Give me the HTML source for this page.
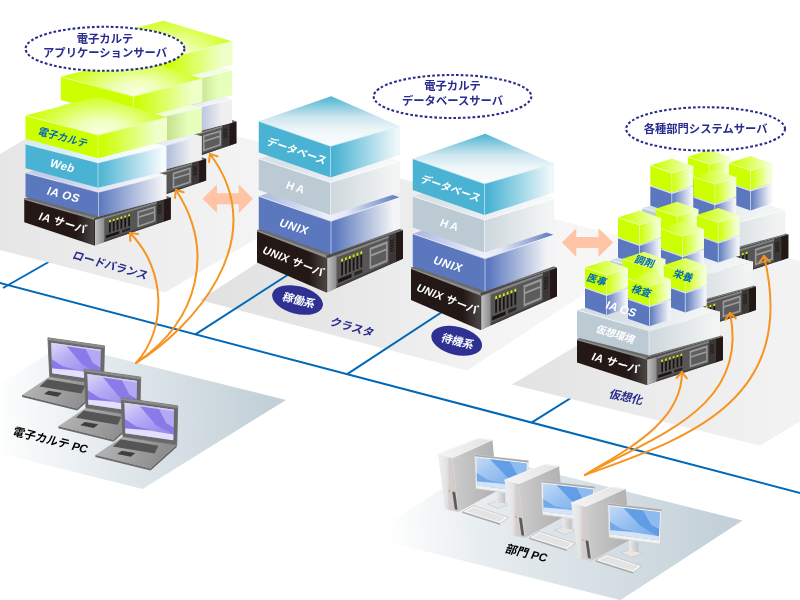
<!DOCTYPE html>
<html lang="ja"><head><meta charset="utf-8"><title>電子カルテ システム構成</title>
<style>
html,body{margin:0;padding:0;background:#fff;overflow:hidden}
svg{display:block;will-change:transform;filter:opacity(0.9999)}
text{font-family:'Liberation Sans','Noto Sans CJK JP',sans-serif;}
</style></head><body>
<svg width="800" height="600" viewBox="0 0 800 600">
<defs><linearGradient id="g1" gradientUnits="userSpaceOnUse" x1="0.0" y1="0.0" x2="260.0" y2="0.0"><stop offset="0" stop-color="#e6e6e6"/><stop offset="0.45" stop-color="#ececec"/><stop offset="1" stop-color="#f4f4f4"/></linearGradient>
<linearGradient id="g2" gradientUnits="userSpaceOnUse" x1="200.0" y1="0.0" x2="650.0" y2="0.0"><stop offset="0" stop-color="#e1e1e1"/><stop offset="0.3" stop-color="#e7e7e7"/><stop offset="0.5" stop-color="#eeeeee"/><stop offset="0.65" stop-color="#f4f4f4"/><stop offset="1" stop-color="#f8f8f8"/></linearGradient>
<linearGradient id="g3" gradientUnits="userSpaceOnUse" x1="512.0" y1="0.0" x2="800.0" y2="0.0"><stop offset="0" stop-color="#e2e2e2"/><stop offset="0.5" stop-color="#ececec"/><stop offset="1" stop-color="#f3f3f3"/></linearGradient>
<linearGradient id="g4" gradientUnits="userSpaceOnUse" x1="0.0" y1="420.0" x2="270.0" y2="410.0"><stop offset="0" stop-color="#fdfefe"/><stop offset="0.35" stop-color="#e6ecef"/><stop offset="1" stop-color="#c3d0d8"/></linearGradient>
<linearGradient id="g5" gradientUnits="userSpaceOnUse" x1="385.0" y1="540.0" x2="730.0" y2="530.0"><stop offset="0" stop-color="#ffffff"/><stop offset="0.3" stop-color="#e6ecef"/><stop offset="1" stop-color="#c3d0d8"/></linearGradient>
<linearGradient id="g6" gradientUnits="userSpaceOnUse" x1="89.8" y1="0.0" x2="159.6" y2="0.0"><stop offset="0" stop-color="#231815"/><stop offset="0.75" stop-color="#231815"/><stop offset="1" stop-color="#4a4644"/></linearGradient>
<linearGradient id="g7" gradientUnits="userSpaceOnUse" x1="159.6" y1="0.0" x2="170.0" y2="0.0"><stop offset="0" stop-color="#c9c9c9"/><stop offset="0.5" stop-color="#a9a9a9"/><stop offset="1" stop-color="#8b8b8b"/></linearGradient>
<linearGradient id="g8" gradientUnits="userSpaceOnUse" x1="131.9" y1="79.5" x2="204.9" y2="112.8"><stop offset="0.0" stop-color="#b9c4e4"/><stop offset="1.0" stop-color="#eef1fa"/></linearGradient>
<linearGradient id="g9" gradientUnits="userSpaceOnUse" x1="164.1" y1="0.0" x2="232.1" y2="0.0"><stop offset="0.0" stop-color="#5b78be"/><stop offset="0.85" stop-color="#f0f0f0"/></linearGradient>
<linearGradient id="g10" gradientUnits="userSpaceOnUse" x1="132.2" y1="51.5" x2="204.7" y2="83.5"><stop offset="0.0" stop-color="#d9f7a0"/><stop offset="1.0" stop-color="#f2fce0"/></linearGradient>
<linearGradient id="g11" gradientUnits="userSpaceOnUse" x1="163.6" y1="0.0" x2="232.1" y2="0.0"><stop offset="0.25" stop-color="#a9c86a"/><stop offset="0.8" stop-color="#e6ffba"/></linearGradient>
<radialGradient id="g12" gradientUnits="userSpaceOnUse" cx="167.6" cy="55.0" r="78.0" gradientTransform="translate(0 26.79) scale(1 0.513)"><stop offset="0" stop-color="#f8ffe2"/><stop offset="0.3" stop-color="#efffb8"/><stop offset="0.65" stop-color="#dcff58"/><stop offset="1" stop-color="#ccff00"/></radialGradient>
<linearGradient id="g13" gradientUnits="userSpaceOnUse" x1="163.6" y1="0.0" x2="232.6" y2="0.0"><stop offset="0.05" stop-color="#ccff00"/><stop offset="0.85" stop-color="#eeffca"/></linearGradient>
<linearGradient id="g14" gradientUnits="userSpaceOnUse" x1="59.5" y1="0.0" x2="129.3" y2="0.0"><stop offset="0" stop-color="#231815"/><stop offset="0.75" stop-color="#231815"/><stop offset="1" stop-color="#4a4644"/></linearGradient>
<linearGradient id="g15" gradientUnits="userSpaceOnUse" x1="129.3" y1="0.0" x2="139.7" y2="0.0"><stop offset="0" stop-color="#c9c9c9"/><stop offset="0.5" stop-color="#a9a9a9"/><stop offset="1" stop-color="#8b8b8b"/></linearGradient>
<linearGradient id="g16" gradientUnits="userSpaceOnUse" x1="101.6" y1="116.8" x2="174.6" y2="150.1"><stop offset="0.0" stop-color="#b9c4e4"/><stop offset="1.0" stop-color="#eef1fa"/></linearGradient>
<linearGradient id="g17" gradientUnits="userSpaceOnUse" x1="133.8" y1="0.0" x2="201.8" y2="0.0"><stop offset="0.0" stop-color="#5b78be"/><stop offset="0.85" stop-color="#f0f0f0"/></linearGradient>
<linearGradient id="g18" gradientUnits="userSpaceOnUse" x1="101.9" y1="88.8" x2="174.4" y2="120.8"><stop offset="0.0" stop-color="#d9f7a0"/><stop offset="1.0" stop-color="#f2fce0"/></linearGradient>
<linearGradient id="g19" gradientUnits="userSpaceOnUse" x1="133.3" y1="0.0" x2="201.8" y2="0.0"><stop offset="0.25" stop-color="#a9c86a"/><stop offset="0.8" stop-color="#e6ffba"/></linearGradient>
<radialGradient id="g20" gradientUnits="userSpaceOnUse" cx="137.3" cy="92.3" r="78.0" gradientTransform="translate(0 44.97) scale(1 0.513)"><stop offset="0" stop-color="#f8ffe2"/><stop offset="0.3" stop-color="#efffb8"/><stop offset="0.65" stop-color="#dcff58"/><stop offset="1" stop-color="#ccff00"/></radialGradient>
<linearGradient id="g21" gradientUnits="userSpaceOnUse" x1="133.3" y1="0.0" x2="202.3" y2="0.0"><stop offset="0.05" stop-color="#ccff00"/><stop offset="0.85" stop-color="#eeffca"/></linearGradient>
<linearGradient id="g22" gradientUnits="userSpaceOnUse" x1="24.2" y1="0.0" x2="94.0" y2="0.0"><stop offset="0" stop-color="#231815"/><stop offset="0.75" stop-color="#231815"/><stop offset="1" stop-color="#4a4644"/></linearGradient>
<linearGradient id="g23" gradientUnits="userSpaceOnUse" x1="94.0" y1="0.0" x2="104.4" y2="0.0"><stop offset="0" stop-color="#c9c9c9"/><stop offset="0.5" stop-color="#a9a9a9"/><stop offset="1" stop-color="#8b8b8b"/></linearGradient>
<linearGradient id="g24" gradientUnits="userSpaceOnUse" x1="66.3" y1="155.5" x2="139.3" y2="188.8"><stop offset="0.0" stop-color="#c3cdea"/><stop offset="1.0" stop-color="#f6f7fc"/></linearGradient>
<linearGradient id="g25" gradientUnits="userSpaceOnUse" x1="98.5" y1="0.0" x2="166.5" y2="0.0"><stop offset="0.0" stop-color="#5b78be"/><stop offset="0.95" stop-color="#f4f4f6"/></linearGradient>
<linearGradient id="g26" gradientUnits="userSpaceOnUse" x1="66.6" y1="127.5" x2="139.1" y2="159.4"><stop offset="0.0" stop-color="#d6edf4"/><stop offset="1.0" stop-color="#fafdfe"/></linearGradient>
<linearGradient id="g27" gradientUnits="userSpaceOnUse" x1="98.0" y1="0.0" x2="166.5" y2="0.0"><stop offset="0.0" stop-color="#4ab3d3"/><stop offset="0.95" stop-color="#f6fbfc"/></linearGradient>
<radialGradient id="g28" gradientUnits="userSpaceOnUse" cx="102.0" cy="131.0" r="78.0" gradientTransform="translate(0 63.82) scale(1 0.513)"><stop offset="0" stop-color="#f8ffe2"/><stop offset="0.3" stop-color="#efffb8"/><stop offset="0.65" stop-color="#dcff58"/><stop offset="1" stop-color="#ccff00"/></radialGradient>
<linearGradient id="g29" gradientUnits="userSpaceOnUse" x1="98.0" y1="0.0" x2="167.0" y2="0.0"><stop offset="0.05" stop-color="#ccff00"/><stop offset="0.85" stop-color="#eeffca"/></linearGradient>
<linearGradient id="g30" gradientUnits="userSpaceOnUse" x1="257.0" y1="0.0" x2="326.2" y2="0.0"><stop offset="0" stop-color="#231815"/><stop offset="0.75" stop-color="#231815"/><stop offset="1" stop-color="#4a4644"/></linearGradient>
<linearGradient id="g31" gradientUnits="userSpaceOnUse" x1="326.2" y1="0.0" x2="336.6" y2="0.0"><stop offset="0" stop-color="#c9c9c9"/><stop offset="0.5" stop-color="#a9a9a9"/><stop offset="1" stop-color="#8b8b8b"/></linearGradient>
<linearGradient id="g32" gradientUnits="userSpaceOnUse" x1="258.8" y1="0.0" x2="400.0" y2="0.0"><stop offset="0" stop-color="#aab7de"/><stop offset="0.5" stop-color="#eef1fa"/><stop offset="0.62" stop-color="#e3e8f6"/><stop offset="1" stop-color="#5b78be"/></linearGradient>
<linearGradient id="g33" gradientUnits="userSpaceOnUse" x1="331.0" y1="0.0" x2="400.0" y2="0.0"><stop offset="0.05" stop-color="#5b78be"/><stop offset="0.9" stop-color="#f4f4f6"/></linearGradient>
<linearGradient id="g34" gradientUnits="userSpaceOnUse" x1="300.4" y1="137.5" x2="372.2" y2="178.2"><stop offset="0.0" stop-color="#d9e2e8"/><stop offset="1.0" stop-color="#f6f8f9"/></linearGradient>
<linearGradient id="g35" gradientUnits="userSpaceOnUse" x1="330.5" y1="0.0" x2="400.0" y2="0.0"><stop offset="0.0" stop-color="#cdd7dd"/><stop offset="0.9" stop-color="#f3f4f4"/></linearGradient>
<linearGradient id="g36" gradientUnits="userSpaceOnUse" x1="0.0" y1="96.2" x2="0.0" y2="146.2"><stop offset="0" stop-color="#4ab3d3"/><stop offset="0.18" stop-color="#84c9de"/><stop offset="0.42" stop-color="#cde6ef"/><stop offset="0.68" stop-color="#eef6f9"/><stop offset="1" stop-color="#fbfcfd"/></linearGradient>
<linearGradient id="g37" gradientUnits="userSpaceOnUse" x1="330.5" y1="0.0" x2="400.0" y2="0.0"><stop offset="0.05" stop-color="#4ab3d3"/><stop offset="0.95" stop-color="#eef7fa"/></linearGradient>
<linearGradient id="g38" gradientUnits="userSpaceOnUse" x1="411.0" y1="0.0" x2="480.2" y2="0.0"><stop offset="0" stop-color="#231815"/><stop offset="0.75" stop-color="#231815"/><stop offset="1" stop-color="#4a4644"/></linearGradient>
<linearGradient id="g39" gradientUnits="userSpaceOnUse" x1="480.2" y1="0.0" x2="490.6" y2="0.0"><stop offset="0" stop-color="#c9c9c9"/><stop offset="0.5" stop-color="#a9a9a9"/><stop offset="1" stop-color="#8b8b8b"/></linearGradient>
<linearGradient id="g40" gradientUnits="userSpaceOnUse" x1="412.8" y1="0.0" x2="554.0" y2="0.0"><stop offset="0" stop-color="#aab7de"/><stop offset="0.5" stop-color="#eef1fa"/><stop offset="0.62" stop-color="#e3e8f6"/><stop offset="1" stop-color="#5b78be"/></linearGradient>
<linearGradient id="g41" gradientUnits="userSpaceOnUse" x1="485.0" y1="0.0" x2="554.0" y2="0.0"><stop offset="0.05" stop-color="#5b78be"/><stop offset="0.9" stop-color="#f4f4f6"/></linearGradient>
<linearGradient id="g42" gradientUnits="userSpaceOnUse" x1="454.4" y1="175.0" x2="526.2" y2="215.8"><stop offset="0.0" stop-color="#d9e2e8"/><stop offset="1.0" stop-color="#f6f8f9"/></linearGradient>
<linearGradient id="g43" gradientUnits="userSpaceOnUse" x1="484.5" y1="0.0" x2="554.0" y2="0.0"><stop offset="0.0" stop-color="#cdd7dd"/><stop offset="0.9" stop-color="#f3f4f4"/></linearGradient>
<linearGradient id="g44" gradientUnits="userSpaceOnUse" x1="0.0" y1="133.8" x2="0.0" y2="183.8"><stop offset="0" stop-color="#4ab3d3"/><stop offset="0.18" stop-color="#84c9de"/><stop offset="0.42" stop-color="#cde6ef"/><stop offset="0.68" stop-color="#eef6f9"/><stop offset="1" stop-color="#fbfcfd"/></linearGradient>
<linearGradient id="g45" gradientUnits="userSpaceOnUse" x1="484.5" y1="0.0" x2="554.0" y2="0.0"><stop offset="0.05" stop-color="#4ab3d3"/><stop offset="0.95" stop-color="#eef7fa"/></linearGradient>
<linearGradient id="g46" gradientUnits="userSpaceOnUse" x1="642.3" y1="0.0" x2="711.5" y2="0.0"><stop offset="0" stop-color="#231815"/><stop offset="0.75" stop-color="#231815"/><stop offset="1" stop-color="#4a4644"/></linearGradient>
<linearGradient id="g47" gradientUnits="userSpaceOnUse" x1="711.5" y1="0.0" x2="721.9" y2="0.0"><stop offset="0" stop-color="#c9c9c9"/><stop offset="0.5" stop-color="#a9a9a9"/><stop offset="1" stop-color="#8b8b8b"/></linearGradient>
<linearGradient id="g48" gradientUnits="userSpaceOnUse" x1="684.9" y1="188.8" x2="756.9" y2="225.2"><stop offset="0.0" stop-color="#d3dde3"/><stop offset="1.0" stop-color="#f2f5f6"/></linearGradient>
<linearGradient id="g49" gradientUnits="userSpaceOnUse" x1="714.3" y1="0.0" x2="785.3" y2="0.0"><stop offset="0.0" stop-color="#cdd7dd"/><stop offset="0.9" stop-color="#f2f3f3"/></linearGradient>
<linearGradient id="g50" gradientUnits="userSpaceOnUse" x1="709.3" y1="0.0" x2="730.8" y2="0.0"><stop offset="0.0" stop-color="#5b78be"/><stop offset="0.9" stop-color="#f2f3f8"/></linearGradient>
<linearGradient id="g51" gradientUnits="userSpaceOnUse" x1="687.8" y1="0.0" x2="730.8" y2="0.0"><stop offset="0.1" stop-color="#ccff00"/><stop offset="0.95" stop-color="#f2ffcc"/></linearGradient>
<linearGradient id="g52" gradientUnits="userSpaceOnUse" x1="709.3" y1="0.0" x2="730.8" y2="0.0"><stop offset="0.0" stop-color="#ccff00"/><stop offset="0.85" stop-color="#f2ffd2"/></linearGradient>
<linearGradient id="g53" gradientUnits="userSpaceOnUse" x1="671.8" y1="0.0" x2="693.3" y2="0.0"><stop offset="0.0" stop-color="#5b78be"/><stop offset="0.9" stop-color="#f2f3f8"/></linearGradient>
<linearGradient id="g54" gradientUnits="userSpaceOnUse" x1="650.3" y1="0.0" x2="693.3" y2="0.0"><stop offset="0.1" stop-color="#ccff00"/><stop offset="0.95" stop-color="#f2ffcc"/></linearGradient>
<linearGradient id="g55" gradientUnits="userSpaceOnUse" x1="671.8" y1="0.0" x2="693.3" y2="0.0"><stop offset="0.0" stop-color="#ccff00"/><stop offset="0.85" stop-color="#f2ffd2"/></linearGradient>
<linearGradient id="g56" gradientUnits="userSpaceOnUse" x1="750.5" y1="0.0" x2="772.0" y2="0.0"><stop offset="0.0" stop-color="#5b78be"/><stop offset="0.9" stop-color="#f2f3f8"/></linearGradient>
<linearGradient id="g57" gradientUnits="userSpaceOnUse" x1="729.0" y1="0.0" x2="772.0" y2="0.0"><stop offset="0.1" stop-color="#ccff00"/><stop offset="0.95" stop-color="#f2ffcc"/></linearGradient>
<linearGradient id="g58" gradientUnits="userSpaceOnUse" x1="750.5" y1="0.0" x2="772.0" y2="0.0"><stop offset="0.0" stop-color="#ccff00"/><stop offset="0.85" stop-color="#f2ffd2"/></linearGradient>
<linearGradient id="g59" gradientUnits="userSpaceOnUse" x1="714.8" y1="0.0" x2="736.3" y2="0.0"><stop offset="0.0" stop-color="#5b78be"/><stop offset="0.9" stop-color="#f2f3f8"/></linearGradient>
<linearGradient id="g60" gradientUnits="userSpaceOnUse" x1="693.3" y1="0.0" x2="736.3" y2="0.0"><stop offset="0.1" stop-color="#ccff00"/><stop offset="0.95" stop-color="#f2ffcc"/></linearGradient>
<linearGradient id="g61" gradientUnits="userSpaceOnUse" x1="714.8" y1="0.0" x2="736.3" y2="0.0"><stop offset="0.0" stop-color="#ccff00"/><stop offset="0.85" stop-color="#f2ffd2"/></linearGradient>
<linearGradient id="g62" gradientUnits="userSpaceOnUse" x1="610.0" y1="0.0" x2="679.2" y2="0.0"><stop offset="0" stop-color="#231815"/><stop offset="0.75" stop-color="#231815"/><stop offset="1" stop-color="#4a4644"/></linearGradient>
<linearGradient id="g63" gradientUnits="userSpaceOnUse" x1="679.2" y1="0.0" x2="689.6" y2="0.0"><stop offset="0" stop-color="#c9c9c9"/><stop offset="0.5" stop-color="#a9a9a9"/><stop offset="1" stop-color="#8b8b8b"/></linearGradient>
<linearGradient id="g64" gradientUnits="userSpaceOnUse" x1="652.6" y1="240.8" x2="724.6" y2="277.2"><stop offset="0.0" stop-color="#d3dde3"/><stop offset="1.0" stop-color="#f2f5f6"/></linearGradient>
<linearGradient id="g65" gradientUnits="userSpaceOnUse" x1="682.0" y1="0.0" x2="753.0" y2="0.0"><stop offset="0.0" stop-color="#cdd7dd"/><stop offset="0.9" stop-color="#f2f3f3"/></linearGradient>
<linearGradient id="g66" gradientUnits="userSpaceOnUse" x1="677.0" y1="0.0" x2="698.5" y2="0.0"><stop offset="0.0" stop-color="#5b78be"/><stop offset="0.9" stop-color="#f2f3f8"/></linearGradient>
<linearGradient id="g67" gradientUnits="userSpaceOnUse" x1="655.5" y1="0.0" x2="698.5" y2="0.0"><stop offset="0.1" stop-color="#ccff00"/><stop offset="0.95" stop-color="#f2ffcc"/></linearGradient>
<linearGradient id="g68" gradientUnits="userSpaceOnUse" x1="677.0" y1="0.0" x2="698.5" y2="0.0"><stop offset="0.0" stop-color="#ccff00"/><stop offset="0.85" stop-color="#f2ffd2"/></linearGradient>
<linearGradient id="g69" gradientUnits="userSpaceOnUse" x1="639.5" y1="0.0" x2="661.0" y2="0.0"><stop offset="0.0" stop-color="#5b78be"/><stop offset="0.9" stop-color="#f2f3f8"/></linearGradient>
<linearGradient id="g70" gradientUnits="userSpaceOnUse" x1="618.0" y1="0.0" x2="661.0" y2="0.0"><stop offset="0.1" stop-color="#ccff00"/><stop offset="0.95" stop-color="#f2ffcc"/></linearGradient>
<linearGradient id="g71" gradientUnits="userSpaceOnUse" x1="639.5" y1="0.0" x2="661.0" y2="0.0"><stop offset="0.0" stop-color="#ccff00"/><stop offset="0.85" stop-color="#f2ffd2"/></linearGradient>
<linearGradient id="g72" gradientUnits="userSpaceOnUse" x1="718.2" y1="0.0" x2="739.8" y2="0.0"><stop offset="0.0" stop-color="#5b78be"/><stop offset="0.9" stop-color="#f2f3f8"/></linearGradient>
<linearGradient id="g73" gradientUnits="userSpaceOnUse" x1="696.8" y1="0.0" x2="739.8" y2="0.0"><stop offset="0.1" stop-color="#ccff00"/><stop offset="0.95" stop-color="#f2ffcc"/></linearGradient>
<linearGradient id="g74" gradientUnits="userSpaceOnUse" x1="718.2" y1="0.0" x2="739.8" y2="0.0"><stop offset="0.0" stop-color="#ccff00"/><stop offset="0.85" stop-color="#f2ffd2"/></linearGradient>
<linearGradient id="g75" gradientUnits="userSpaceOnUse" x1="682.5" y1="0.0" x2="704.0" y2="0.0"><stop offset="0.0" stop-color="#5b78be"/><stop offset="0.9" stop-color="#f2f3f8"/></linearGradient>
<linearGradient id="g76" gradientUnits="userSpaceOnUse" x1="661.0" y1="0.0" x2="704.0" y2="0.0"><stop offset="0.1" stop-color="#ccff00"/><stop offset="0.95" stop-color="#f2ffcc"/></linearGradient>
<linearGradient id="g77" gradientUnits="userSpaceOnUse" x1="682.5" y1="0.0" x2="704.0" y2="0.0"><stop offset="0.0" stop-color="#ccff00"/><stop offset="0.85" stop-color="#f2ffd2"/></linearGradient>
<linearGradient id="g78" gradientUnits="userSpaceOnUse" x1="577.0" y1="0.0" x2="646.2" y2="0.0"><stop offset="0" stop-color="#231815"/><stop offset="0.75" stop-color="#231815"/><stop offset="1" stop-color="#4a4644"/></linearGradient>
<linearGradient id="g79" gradientUnits="userSpaceOnUse" x1="646.2" y1="0.0" x2="656.6" y2="0.0"><stop offset="0" stop-color="#c9c9c9"/><stop offset="0.5" stop-color="#a9a9a9"/><stop offset="1" stop-color="#8b8b8b"/></linearGradient>
<linearGradient id="g80" gradientUnits="userSpaceOnUse" x1="619.6" y1="290.8" x2="691.6" y2="327.2"><stop offset="0.0" stop-color="#d3dde3"/><stop offset="1.0" stop-color="#f2f5f6"/></linearGradient>
<linearGradient id="g81" gradientUnits="userSpaceOnUse" x1="649.0" y1="0.0" x2="720.0" y2="0.0"><stop offset="0.0" stop-color="#cdd7dd"/><stop offset="0.9" stop-color="#f2f3f3"/></linearGradient>
<linearGradient id="g82" gradientUnits="userSpaceOnUse" x1="644.0" y1="0.0" x2="665.5" y2="0.0"><stop offset="0.0" stop-color="#5b78be"/><stop offset="0.9" stop-color="#f2f3f8"/></linearGradient>
<linearGradient id="g83" gradientUnits="userSpaceOnUse" x1="622.5" y1="0.0" x2="665.5" y2="0.0"><stop offset="0.1" stop-color="#ccff00"/><stop offset="0.95" stop-color="#f2ffcc"/></linearGradient>
<linearGradient id="g84" gradientUnits="userSpaceOnUse" x1="644.0" y1="0.0" x2="665.5" y2="0.0"><stop offset="0.0" stop-color="#ccff00"/><stop offset="0.85" stop-color="#f2ffd2"/></linearGradient>
<linearGradient id="g85" gradientUnits="userSpaceOnUse" x1="606.5" y1="0.0" x2="628.0" y2="0.0"><stop offset="0.0" stop-color="#5b78be"/><stop offset="0.9" stop-color="#f2f3f8"/></linearGradient>
<linearGradient id="g86" gradientUnits="userSpaceOnUse" x1="585.0" y1="0.0" x2="628.0" y2="0.0"><stop offset="0.1" stop-color="#ccff00"/><stop offset="0.95" stop-color="#f2ffcc"/></linearGradient>
<linearGradient id="g87" gradientUnits="userSpaceOnUse" x1="606.5" y1="0.0" x2="628.0" y2="0.0"><stop offset="0.0" stop-color="#ccff00"/><stop offset="0.85" stop-color="#f2ffd2"/></linearGradient>
<linearGradient id="g88" gradientUnits="userSpaceOnUse" x1="685.2" y1="0.0" x2="706.8" y2="0.0"><stop offset="0.0" stop-color="#5b78be"/><stop offset="0.9" stop-color="#f2f3f8"/></linearGradient>
<linearGradient id="g89" gradientUnits="userSpaceOnUse" x1="663.8" y1="0.0" x2="706.8" y2="0.0"><stop offset="0.1" stop-color="#ccff00"/><stop offset="0.95" stop-color="#f2ffcc"/></linearGradient>
<linearGradient id="g90" gradientUnits="userSpaceOnUse" x1="685.2" y1="0.0" x2="706.8" y2="0.0"><stop offset="0.0" stop-color="#ccff00"/><stop offset="0.85" stop-color="#f2ffd2"/></linearGradient>
<linearGradient id="g91" gradientUnits="userSpaceOnUse" x1="649.5" y1="0.0" x2="671.0" y2="0.0"><stop offset="0.0" stop-color="#5b78be"/><stop offset="0.9" stop-color="#f2f3f8"/></linearGradient>
<linearGradient id="g92" gradientUnits="userSpaceOnUse" x1="628.0" y1="0.0" x2="671.0" y2="0.0"><stop offset="0.1" stop-color="#ccff00"/><stop offset="0.95" stop-color="#f2ffcc"/></linearGradient>
<linearGradient id="g93" gradientUnits="userSpaceOnUse" x1="649.5" y1="0.0" x2="671.0" y2="0.0"><stop offset="0.0" stop-color="#ccff00"/><stop offset="0.85" stop-color="#f2ffd2"/></linearGradient>
<linearGradient id="g94" gradientUnits="userSpaceOnUse" x1="30.0" y1="380.0" x2="80.0" y2="410.0"><stop offset="0" stop-color="#b4b4b4"/><stop offset="1" stop-color="#8e8e8e"/></linearGradient>
<linearGradient id="g95" gradientUnits="userSpaceOnUse" x1="51.0" y1="343.0" x2="76.0" y2="380.0"><stop offset="0" stop-color="#dcd7fb"/><stop offset="0.5" stop-color="#b4aaf4"/><stop offset="1" stop-color="#9a8dee"/></linearGradient>
<linearGradient id="g96" gradientUnits="userSpaceOnUse" x1="66.2" y1="411.2" x2="116.2" y2="441.2"><stop offset="0" stop-color="#b4b4b4"/><stop offset="1" stop-color="#8e8e8e"/></linearGradient>
<linearGradient id="g97" gradientUnits="userSpaceOnUse" x1="87.2" y1="374.2" x2="112.2" y2="411.2"><stop offset="0" stop-color="#dcd7fb"/><stop offset="0.5" stop-color="#b4aaf4"/><stop offset="1" stop-color="#9a8dee"/></linearGradient>
<linearGradient id="g98" gradientUnits="userSpaceOnUse" x1="103.2" y1="440.0" x2="153.2" y2="470.0"><stop offset="0" stop-color="#b4b4b4"/><stop offset="1" stop-color="#8e8e8e"/></linearGradient>
<linearGradient id="g99" gradientUnits="userSpaceOnUse" x1="124.2" y1="403.0" x2="149.2" y2="440.0"><stop offset="0" stop-color="#dcd7fb"/><stop offset="0.5" stop-color="#b4aaf4"/><stop offset="1" stop-color="#9a8dee"/></linearGradient>
<linearGradient id="g100" gradientUnits="userSpaceOnUse" x1="438.0" y1="455.0" x2="490.0" y2="440.0"><stop offset="0" stop-color="#f4f4f4"/><stop offset="1" stop-color="#e4e4e4"/></linearGradient>
<linearGradient id="g101" gradientUnits="userSpaceOnUse" x1="452.0" y1="0.0" x2="497.0" y2="0.0"><stop offset="0" stop-color="#cdcdcd"/><stop offset="0.5" stop-color="#bdbdbd"/><stop offset="1" stop-color="#b0b0b0"/></linearGradient>
<linearGradient id="g102" gradientUnits="userSpaceOnUse" x1="438.0" y1="0.0" x2="458.0" y2="0.0"><stop offset="0" stop-color="#f0f0f0"/><stop offset="0.45" stop-color="#e2e2e2"/><stop offset="0.55" stop-color="#d6cfcf"/><stop offset="1" stop-color="#cfc8c8"/></linearGradient>
<linearGradient id="g103" gradientUnits="userSpaceOnUse" x1="495.0" y1="0.0" x2="505.0" y2="0.0"><stop offset="0" stop-color="#f0f0f0"/><stop offset="1" stop-color="#c2c2c2"/></linearGradient>
<linearGradient id="g104" gradientUnits="userSpaceOnUse" x1="476.0" y1="458.0" x2="500.0" y2="492.0"><stop offset="0" stop-color="#c3dbf7"/><stop offset="0.45" stop-color="#9fc5f1"/><stop offset="1" stop-color="#7fb0ec"/></linearGradient>
<linearGradient id="g105" gradientUnits="userSpaceOnUse" x1="504.6" y1="481.0" x2="556.6" y2="466.0"><stop offset="0" stop-color="#f4f4f4"/><stop offset="1" stop-color="#e4e4e4"/></linearGradient>
<linearGradient id="g106" gradientUnits="userSpaceOnUse" x1="518.6" y1="0.0" x2="563.6" y2="0.0"><stop offset="0" stop-color="#cdcdcd"/><stop offset="0.5" stop-color="#bdbdbd"/><stop offset="1" stop-color="#b0b0b0"/></linearGradient>
<linearGradient id="g107" gradientUnits="userSpaceOnUse" x1="504.6" y1="0.0" x2="524.6" y2="0.0"><stop offset="0" stop-color="#f0f0f0"/><stop offset="0.45" stop-color="#e2e2e2"/><stop offset="0.55" stop-color="#d6cfcf"/><stop offset="1" stop-color="#cfc8c8"/></linearGradient>
<linearGradient id="g108" gradientUnits="userSpaceOnUse" x1="561.6" y1="0.0" x2="571.6" y2="0.0"><stop offset="0" stop-color="#f0f0f0"/><stop offset="1" stop-color="#c2c2c2"/></linearGradient>
<linearGradient id="g109" gradientUnits="userSpaceOnUse" x1="542.6" y1="484.0" x2="566.6" y2="518.0"><stop offset="0" stop-color="#c3dbf7"/><stop offset="0.45" stop-color="#9fc5f1"/><stop offset="1" stop-color="#7fb0ec"/></linearGradient>
<linearGradient id="g110" gradientUnits="userSpaceOnUse" x1="571.2" y1="503.8" x2="623.2" y2="488.8"><stop offset="0" stop-color="#f4f4f4"/><stop offset="1" stop-color="#e4e4e4"/></linearGradient>
<linearGradient id="g111" gradientUnits="userSpaceOnUse" x1="585.2" y1="0.0" x2="630.2" y2="0.0"><stop offset="0" stop-color="#cdcdcd"/><stop offset="0.5" stop-color="#bdbdbd"/><stop offset="1" stop-color="#b0b0b0"/></linearGradient>
<linearGradient id="g112" gradientUnits="userSpaceOnUse" x1="571.2" y1="0.0" x2="591.2" y2="0.0"><stop offset="0" stop-color="#f0f0f0"/><stop offset="0.45" stop-color="#e2e2e2"/><stop offset="0.55" stop-color="#d6cfcf"/><stop offset="1" stop-color="#cfc8c8"/></linearGradient>
<linearGradient id="g113" gradientUnits="userSpaceOnUse" x1="628.2" y1="0.0" x2="638.2" y2="0.0"><stop offset="0" stop-color="#f0f0f0"/><stop offset="1" stop-color="#c2c2c2"/></linearGradient>
<linearGradient id="g114" gradientUnits="userSpaceOnUse" x1="609.2" y1="506.8" x2="633.2" y2="540.8"><stop offset="0" stop-color="#c3dbf7"/><stop offset="0.45" stop-color="#9fc5f1"/><stop offset="1" stop-color="#7fb0ec"/></linearGradient></defs>
<rect width="800" height="600" fill="#fff"/>
<g stroke="#0068b7" stroke-width="2" fill="none">
<line x1="-5" y1="281.7" x2="805" y2="494.3"/>
<line x1="3" y1="288" x2="60" y2="255.5"/>
<line x1="531.5" y1="422.6" x2="590" y2="386"/>
</g>
<polygon points="-113.30,220.80 92.70,99.30 371.00,171.00 165.00,292.50" fill="url(#g1)" />
<polygon points="200.00,300.00 391.00,176.00 658.00,246.00 467.00,370.40" fill="url(#g2)" />
<polygon points="512.00,384.50 742.00,246.50 990.00,307.60 760.00,445.60" fill="url(#g3)" />
<g stroke="#0068b7" stroke-width="2" fill="none">
<line x1="195" y1="334.6" x2="300" y2="267"/>
<line x1="346.8" y1="374.3" x2="458" y2="301.5"/>
</g>
<polygon points="-80.50,433.60 63.00,344.60 286.00,400.00 142.50,489.00" fill="url(#g4)" />
<polygon points="368.00,537.00 490.00,457.40 742.50,520.50 620.50,600.10" fill="url(#g5)" />
<polygon points="89.85,122.25 166.65,101.80 236.40,121.30 159.60,141.75" fill="#6a6a6a" />
<polygon points="89.85,122.25 159.60,141.75 159.60,169.50 89.85,146.25" fill="url(#g6)" />
<polygon points="89.85,122.25 159.60,141.75 159.60,143.83 89.85,123.85" fill="#8c8c8c" />
<polygon points="159.60,141.75 236.40,121.30 236.40,122.30 159.60,144.85" fill="#4d4d4d" />
<polygon points="159.60,144.35 236.40,121.70 236.40,143.20 159.60,169.50" fill="#565656" />
<polygon points="222.19,125.89 229.10,123.85 229.10,145.70 222.19,148.07" fill="#3b3736" />
<polygon points="159.60,144.35 169.97,141.29 169.97,165.95 159.60,169.50" fill="url(#g7)" />
<polygon points="159.60,144.35 160.52,144.08 160.52,169.18 159.60,169.50" fill="#231815" />
<polygon points="169.97,141.29 222.19,125.89 222.19,127.44 169.97,143.02" fill="#858585" />
<polygon points="169.97,164.22 222.19,146.51 222.19,148.07 169.97,165.95" fill="#404040" />
<polygon points="229.10,123.85 236.40,121.70 236.40,143.20 229.10,145.70" fill="#231815" />
<polygon points="227.95,124.19 229.49,123.74 229.49,145.57 227.95,146.09" fill="#3e3a39" />
<polygon points="174.58,146.53 176.34,145.99 176.34,156.22 174.58,156.80" fill="#1a1311" />
<polygon points="174.58,144.33 176.34,143.80 176.34,145.99 174.58,146.53" fill="#d7f205" />
<polygon points="178.42,145.35 180.18,144.81 180.18,154.96 178.42,155.54" fill="#1a1311" />
<polygon points="178.42,143.17 180.18,142.63 180.18,144.81 178.42,145.35" fill="#d7f205" />
<polygon points="182.26,144.17 184.02,143.62 184.02,153.70 182.26,154.28" fill="#1a1311" />
<polygon points="182.26,142.00 184.02,141.47 184.02,143.62 182.26,144.17" fill="#d7f205" />
<polygon points="186.10,142.99 187.86,142.44 187.86,152.44 186.10,153.02" fill="#1a1311" />
<polygon points="186.10,140.84 187.86,140.30 187.86,142.44 186.10,142.99" fill="#d7f205" />
<polygon points="189.94,141.80 191.70,141.26 191.70,151.18 189.94,151.76" fill="#1a1311" />
<polygon points="189.94,139.67 191.70,139.13 191.70,141.26 189.94,141.80" fill="#d7f205" />
<polygon points="171.50,159.52 184.94,155.07 184.94,157.71 171.50,162.23" fill="#1a1311" />
<polygon points="187.63,154.18 195.70,151.51 195.70,154.09 187.63,156.80" fill="#2a2422" />
<polygon points="202.99,135.48 221.04,130.01 221.04,145.35 202.99,151.41" fill="#9a9a9a" />
<polygon points="204.53,136.85 219.50,132.26 219.50,135.60 204.53,140.31" fill="#5f5f5f" />
<polygon points="204.53,141.92 219.50,137.17 219.50,144.30 204.53,149.28" fill="#5c5c5c" />
<polygon points="223.34,129.75 227.18,128.59 227.18,129.46 223.34,130.64" fill="#231815" />
<polygon points="223.34,131.63 227.18,130.45 227.18,131.33 223.34,132.52" fill="#231815" />
<polygon points="223.34,133.51 227.18,132.32 227.18,133.19 223.34,134.40" fill="#231815" />
<polygon points="223.34,135.39 227.18,134.18 227.18,135.06 223.34,136.28" fill="#231815" />
<polygon points="223.34,137.27 227.18,136.05 227.18,136.92 223.34,138.16" fill="#231815" />
<polygon points="91.10,96.75 159.10,79.50 232.10,99.00 164.10,116.25" fill="url(#g8)" />
<polygon points="91.10,96.75 164.10,116.25 164.10,140.25 91.10,120.75" fill="#5b78be" />
<polygon points="164.10,116.25 232.10,99.00 232.10,122.75 164.10,140.25" fill="url(#g9)" />
<polyline points="91.10,96.75 164.10,116.25 232.10,99.00" fill="none" stroke="#ffffff" stroke-width="1" stroke-opacity="0.65"/>
<line x1="164.10" y1="116.25" x2="164.10" y2="140.25" stroke="#ffffff" stroke-width="0.8" stroke-opacity="0.65"/>
<polygon points="91.10,68.00 159.60,51.50 232.10,70.25 163.60,86.75" fill="url(#g10)" />
<polygon points="91.10,68.00 163.60,86.75 163.60,111.75 91.10,92.25" fill="#b9ea30" />
<polygon points="163.60,86.75 232.10,70.25 232.10,95.25 163.60,111.75" fill="url(#g11)" />
<polyline points="91.10,68.00 163.60,86.75 232.10,70.25" fill="none" stroke="#ffffff" stroke-width="1" stroke-opacity="0.65"/>
<line x1="163.60" y1="86.75" x2="163.60" y2="111.75" stroke="#ffffff" stroke-width="0.8" stroke-opacity="0.65"/>
<polygon points="91.10,39.50 163.35,20.75 232.60,41.50 163.60,59.00" fill="url(#g12)" />
<polygon points="91.10,39.50 163.60,59.00 163.60,82.25 91.10,62.75" fill="#ccff00" />
<polygon points="163.60,59.00 232.60,41.50 232.60,64.75 163.60,82.25" fill="url(#g13)" />
<polyline points="91.10,39.50 163.60,59.00 232.60,41.50" fill="none" stroke="#f4ffd8" stroke-width="1" stroke-opacity="0.65"/>
<line x1="163.60" y1="59.00" x2="163.60" y2="82.25" stroke="#f4ffd8" stroke-width="0.8" stroke-opacity="0.65"/>
<polygon points="59.55,159.55 136.35,139.10 206.10,158.60 129.30,179.05" fill="#6a6a6a" />
<polygon points="59.55,159.55 129.30,179.05 129.30,206.80 59.55,183.55" fill="url(#g14)" />
<polygon points="59.55,159.55 129.30,179.05 129.30,181.13 59.55,161.15" fill="#8c8c8c" />
<polygon points="129.30,179.05 206.10,158.60 206.10,159.60 129.30,182.15" fill="#4d4d4d" />
<polygon points="129.30,181.65 206.10,159.00 206.10,180.50 129.30,206.80" fill="#565656" />
<polygon points="191.89,163.19 198.80,161.15 198.80,183.00 191.89,185.37" fill="#3b3736" />
<polygon points="129.30,181.65 139.67,178.59 139.67,203.25 129.30,206.80" fill="url(#g15)" />
<polygon points="129.30,181.65 130.22,181.38 130.22,206.48 129.30,206.80" fill="#231815" />
<polygon points="139.67,178.59 191.89,163.19 191.89,164.74 139.67,180.32" fill="#858585" />
<polygon points="139.67,201.52 191.89,183.81 191.89,185.37 139.67,203.25" fill="#404040" />
<polygon points="198.80,161.15 206.10,159.00 206.10,180.50 198.80,183.00" fill="#231815" />
<polygon points="197.65,161.49 199.19,161.04 199.19,182.87 197.65,183.39" fill="#3e3a39" />
<polygon points="144.28,183.83 146.04,183.29 146.04,193.52 144.28,194.10" fill="#1a1311" />
<polygon points="144.28,181.63 146.04,181.10 146.04,183.29 144.28,183.83" fill="#d7f205" />
<polygon points="148.12,182.65 149.88,182.11 149.88,192.26 148.12,192.84" fill="#1a1311" />
<polygon points="148.12,180.47 149.88,179.93 149.88,182.11 148.12,182.65" fill="#d7f205" />
<polygon points="151.96,181.47 153.72,180.92 153.72,191.00 151.96,191.58" fill="#1a1311" />
<polygon points="151.96,179.30 153.72,178.77 153.72,180.92 151.96,181.47" fill="#d7f205" />
<polygon points="155.80,180.29 157.56,179.74 157.56,189.74 155.80,190.32" fill="#1a1311" />
<polygon points="155.80,178.14 157.56,177.60 157.56,179.74 155.80,180.29" fill="#d7f205" />
<polygon points="159.64,179.10 161.40,178.56 161.40,188.48 159.64,189.06" fill="#1a1311" />
<polygon points="159.64,176.97 161.40,176.43 161.40,178.56 159.64,179.10" fill="#d7f205" />
<polygon points="141.20,196.82 154.64,192.37 154.64,195.01 141.20,199.53" fill="#1a1311" />
<polygon points="157.33,191.48 165.40,188.81 165.40,191.39 157.33,194.10" fill="#2a2422" />
<polygon points="172.69,172.78 190.74,167.31 190.74,182.65 172.69,188.71" fill="#9a9a9a" />
<polygon points="174.23,174.15 189.20,169.56 189.20,172.90 174.23,177.61" fill="#5f5f5f" />
<polygon points="174.23,179.22 189.20,174.47 189.20,181.60 174.23,186.58" fill="#5c5c5c" />
<polygon points="193.04,167.05 196.88,165.89 196.88,166.76 193.04,167.94" fill="#231815" />
<polygon points="193.04,168.93 196.88,167.75 196.88,168.63 193.04,169.82" fill="#231815" />
<polygon points="193.04,170.81 196.88,169.62 196.88,170.49 193.04,171.70" fill="#231815" />
<polygon points="193.04,172.69 196.88,171.48 196.88,172.36 193.04,173.58" fill="#231815" />
<polygon points="193.04,174.57 196.88,173.35 196.88,174.22 193.04,175.46" fill="#231815" />
<polygon points="60.80,134.05 128.80,116.80 201.80,136.30 133.80,153.55" fill="url(#g16)" />
<polygon points="60.80,134.05 133.80,153.55 133.80,177.55 60.80,158.05" fill="#5b78be" />
<polygon points="133.80,153.55 201.80,136.30 201.80,160.05 133.80,177.55" fill="url(#g17)" />
<polyline points="60.80,134.05 133.80,153.55 201.80,136.30" fill="none" stroke="#ffffff" stroke-width="1" stroke-opacity="0.65"/>
<line x1="133.80" y1="153.55" x2="133.80" y2="177.55" stroke="#ffffff" stroke-width="0.8" stroke-opacity="0.65"/>
<polygon points="60.80,105.30 129.30,88.80 201.80,107.55 133.30,124.05" fill="url(#g18)" />
<polygon points="60.80,105.30 133.30,124.05 133.30,149.05 60.80,129.55" fill="#b9ea30" />
<polygon points="133.30,124.05 201.80,107.55 201.80,132.55 133.30,149.05" fill="url(#g19)" />
<polyline points="60.80,105.30 133.30,124.05 201.80,107.55" fill="none" stroke="#ffffff" stroke-width="1" stroke-opacity="0.65"/>
<line x1="133.30" y1="124.05" x2="133.30" y2="149.05" stroke="#ffffff" stroke-width="0.8" stroke-opacity="0.65"/>
<polygon points="60.80,76.80 133.05,58.05 202.30,78.80 133.30,96.30" fill="url(#g20)" />
<polygon points="60.80,76.80 133.30,96.30 133.30,119.55 60.80,100.05" fill="#ccff00" />
<polygon points="133.30,96.30 202.30,78.80 202.30,102.05 133.30,119.55" fill="url(#g21)" />
<polyline points="60.80,76.80 133.30,96.30 202.30,78.80" fill="none" stroke="#f4ffd8" stroke-width="1" stroke-opacity="0.65"/>
<line x1="133.30" y1="96.30" x2="133.30" y2="119.55" stroke="#f4ffd8" stroke-width="0.8" stroke-opacity="0.65"/>
<polygon points="24.25,198.25 101.05,177.80 170.80,197.30 94.00,217.75" fill="#6a6a6a" />
<polygon points="24.25,198.25 94.00,217.75 94.00,245.50 24.25,222.25" fill="url(#g22)" />
<polygon points="24.25,198.25 94.00,217.75 94.00,219.83 24.25,199.85" fill="#8c8c8c" />
<polygon points="94.00,217.75 170.80,197.30 170.80,198.30 94.00,220.85" fill="#4d4d4d" />
<polygon points="94.00,220.35 170.80,197.70 170.80,219.20 94.00,245.50" fill="#565656" />
<polygon points="156.59,201.89 163.50,199.85 163.50,221.70 156.59,224.07" fill="#3b3736" />
<polygon points="94.00,220.35 104.37,217.29 104.37,241.95 94.00,245.50" fill="url(#g23)" />
<polygon points="94.00,220.35 94.92,220.08 94.92,245.18 94.00,245.50" fill="#231815" />
<polygon points="104.37,217.29 156.59,201.89 156.59,203.44 104.37,219.02" fill="#858585" />
<polygon points="104.37,240.22 156.59,222.51 156.59,224.07 104.37,241.95" fill="#404040" />
<polygon points="163.50,199.85 170.80,197.70 170.80,219.20 163.50,221.70" fill="#231815" />
<polygon points="162.35,200.19 163.89,199.74 163.89,221.57 162.35,222.09" fill="#3e3a39" />
<polygon points="108.98,222.53 110.74,221.99 110.74,232.22 108.98,232.80" fill="#1a1311" />
<polygon points="108.98,220.33 110.74,219.80 110.74,221.99 108.98,222.53" fill="#d7f205" />
<polygon points="112.82,221.35 114.58,220.81 114.58,230.96 112.82,231.54" fill="#1a1311" />
<polygon points="112.82,219.17 114.58,218.63 114.58,220.81 112.82,221.35" fill="#d7f205" />
<polygon points="116.66,220.17 118.42,219.62 118.42,229.70 116.66,230.28" fill="#1a1311" />
<polygon points="116.66,218.00 118.42,217.47 118.42,219.62 116.66,220.17" fill="#d7f205" />
<polygon points="120.50,218.99 122.26,218.44 122.26,228.44 120.50,229.02" fill="#1a1311" />
<polygon points="120.50,216.84 122.26,216.30 122.26,218.44 120.50,218.99" fill="#d7f205" />
<polygon points="124.34,217.80 126.10,217.26 126.10,227.18 124.34,227.76" fill="#1a1311" />
<polygon points="124.34,215.67 126.10,215.13 126.10,217.26 124.34,217.80" fill="#d7f205" />
<polygon points="128.18,216.62 129.94,216.08 129.94,225.92 128.18,226.50" fill="#1a1311" />
<polygon points="128.18,214.51 129.94,213.97 129.94,216.08 128.18,216.62" fill="#d7f205" />
<polygon points="105.90,235.52 119.34,231.07 119.34,233.71 105.90,238.23" fill="#1a1311" />
<polygon points="122.03,230.18 130.10,227.51 130.10,230.09 122.03,232.80" fill="#2a2422" />
<polygon points="137.39,211.48 155.44,206.01 155.44,221.35 137.39,227.41" fill="#9a9a9a" />
<polygon points="138.93,212.85 153.90,208.26 153.90,211.60 138.93,216.31" fill="#5f5f5f" />
<polygon points="138.93,217.92 153.90,213.17 153.90,220.30 138.93,225.28" fill="#5c5c5c" />
<polygon points="157.74,205.75 161.58,204.59 161.58,205.46 157.74,206.64" fill="#231815" />
<polygon points="157.74,207.63 161.58,206.45 161.58,207.33 157.74,208.52" fill="#231815" />
<polygon points="157.74,209.51 161.58,208.32 161.58,209.19 157.74,210.40" fill="#231815" />
<polygon points="157.74,211.39 161.58,210.18 161.58,211.06 157.74,212.28" fill="#231815" />
<polygon points="157.74,213.27 161.58,212.05 161.58,212.92 157.74,214.16" fill="#231815" />
<text x="0" y="0" font-size="11.00" fill="#fff" text-anchor="middle" font-weight="bold" transform="translate(61.22 226.34) rotate(17.0) skewX(-9.0)" letter-spacing="0.4">IA サーバ</text>
<polygon points="25.50,172.75 93.50,155.50 166.50,175.00 98.50,192.25" fill="url(#g24)" />
<polygon points="25.50,172.75 98.50,192.25 98.50,216.25 25.50,196.75" fill="#5b78be" />
<polygon points="98.50,192.25 166.50,175.00 166.50,198.75 98.50,216.25" fill="url(#g25)" />
<polyline points="25.50,172.75 98.50,192.25 166.50,175.00" fill="none" stroke="#ffffff" stroke-width="1" stroke-opacity="0.65"/>
<line x1="98.50" y1="192.25" x2="98.50" y2="216.25" stroke="#ffffff" stroke-width="0.8" stroke-opacity="0.65"/>
<polygon points="25.50,144.00 94.00,127.50 166.50,146.25 98.00,162.75" fill="url(#g26)" />
<polygon points="25.50,144.00 98.00,162.75 98.00,187.75 25.50,168.25" fill="#4ab3d3" />
<polygon points="98.00,162.75 166.50,146.25 166.50,171.25 98.00,187.75" fill="url(#g27)" />
<polyline points="25.50,144.00 98.00,162.75 166.50,146.25" fill="none" stroke="#ffffff" stroke-width="1" stroke-opacity="0.65"/>
<line x1="98.00" y1="162.75" x2="98.00" y2="187.75" stroke="#ffffff" stroke-width="0.8" stroke-opacity="0.65"/>
<polygon points="25.50,115.50 97.75,96.75 167.00,117.50 98.00,135.00" fill="url(#g28)" />
<polygon points="25.50,115.50 98.00,135.00 98.00,158.25 25.50,138.75" fill="#ccff00" />
<polygon points="98.00,135.00 167.00,117.50 167.00,140.75 98.00,158.25" fill="url(#g29)" />
<polyline points="25.50,115.50 98.00,135.00 167.00,117.50" fill="none" stroke="#f4ffd8" stroke-width="1" stroke-opacity="0.65"/>
<line x1="98.00" y1="135.00" x2="98.00" y2="158.25" stroke="#f4ffd8" stroke-width="0.8" stroke-opacity="0.65"/>
<text x="0" y="0" font-size="10.20" fill="#0068b7" text-anchor="middle" font-weight="bold" transform="translate(61.50 140.80) rotate(15.0) skewX(-9.0)" >電子カルテ</text>
<text x="0" y="0" font-size="11.50" fill="#fff" text-anchor="middle" font-weight="bold" transform="translate(61.00 169.50) rotate(15.0) skewX(-9.0)" letter-spacing="0.5">Web</text>
<text x="0" y="0" font-size="11.50" fill="#fff" text-anchor="middle" font-weight="bold" transform="translate(62.00 198.30) rotate(15.0) skewX(-9.0)" letter-spacing="0.5">IA OS</text>
<polygon points="257.00,230.00 333.75,205.00 403.00,230.00 326.25,255.00" fill="#6a6a6a" />
<polygon points="257.00,230.00 326.25,255.00 326.25,292.50 257.00,262.50" fill="url(#g30)" />
<polygon points="257.00,230.00 326.25,255.00 326.25,258.00 257.00,231.60" fill="#8c8c8c" />
<polygon points="326.25,255.00 403.00,230.00 403.00,231.00 326.25,259.25" fill="#4d4d4d" />
<polygon points="326.25,258.75 403.00,230.40 403.00,258.75 326.25,292.50" fill="#565656" />
<polygon points="388.80,235.64 395.71,233.09 395.71,261.96 388.80,264.99" fill="#3b3736" />
<polygon points="326.25,258.75 336.61,254.92 336.61,287.94 326.25,292.50" fill="url(#g31)" />
<polygon points="326.25,258.75 327.17,258.41 327.17,292.10 326.25,292.50" fill="#231815" />
<polygon points="336.61,254.92 388.80,235.64 388.80,237.70 336.61,257.23" fill="#858585" />
<polygon points="336.61,285.63 388.80,262.94 388.80,264.99 336.61,287.94" fill="#404040" />
<polygon points="395.71,233.09 403.00,230.40 403.00,258.75 395.71,261.96" fill="#231815" />
<polygon points="394.56,233.52 396.09,232.95 396.09,261.79 394.56,262.46" fill="#3e3a39" />
<polygon points="341.22,262.05 342.98,261.36 342.98,275.04 341.22,275.78" fill="#1a1311" />
<polygon points="341.22,259.11 342.98,258.43 342.98,261.36 341.22,262.05" fill="#d7f205" />
<polygon points="345.05,260.56 346.82,259.87 346.82,273.44 345.05,274.18" fill="#1a1311" />
<polygon points="345.05,257.64 346.82,256.97 346.82,259.87 345.05,260.56" fill="#d7f205" />
<polygon points="348.89,259.07 350.66,258.38 350.66,271.84 348.89,272.58" fill="#1a1311" />
<polygon points="348.89,256.18 350.66,255.50 350.66,258.38 348.89,259.07" fill="#d7f205" />
<polygon points="352.73,257.58 354.49,256.89 354.49,270.23 352.73,270.97" fill="#1a1311" />
<polygon points="352.73,254.71 354.49,254.03 354.49,256.89 352.73,257.58" fill="#d7f205" />
<polygon points="356.57,256.09 358.33,255.40 358.33,268.63 356.57,269.37" fill="#1a1311" />
<polygon points="356.57,253.24 358.33,252.57 358.33,255.40 356.57,256.09" fill="#d7f205" />
<polygon points="360.40,254.60 362.17,253.91 362.17,267.03 360.40,267.76" fill="#1a1311" />
<polygon points="360.40,251.78 362.17,251.10 362.17,253.91 360.40,254.60" fill="#d7f205" />
<polygon points="338.15,279.37 351.58,273.69 351.58,277.21 338.15,282.99" fill="#1a1311" />
<polygon points="354.26,272.55 362.32,269.15 362.32,272.58 354.26,276.05" fill="#2a2422" />
<polygon points="369.61,247.95 387.65,241.07 387.65,261.38 369.61,269.13" fill="#9a9a9a" />
<polygon points="371.15,249.81 386.12,244.02 386.12,248.45 371.15,254.40" fill="#5f5f5f" />
<polygon points="371.15,256.54 386.12,250.52 386.12,259.97 371.15,266.33" fill="#5c5c5c" />
<polygon points="389.95,240.78 393.79,239.31 393.79,240.47 389.95,241.95" fill="#231815" />
<polygon points="389.95,243.27 393.79,241.78 393.79,242.94 389.95,244.44" fill="#231815" />
<polygon points="389.95,245.76 393.79,244.24 393.79,245.40 389.95,246.93" fill="#231815" />
<polygon points="389.95,248.24 393.79,246.71 393.79,247.87 389.95,249.41" fill="#231815" />
<polygon points="389.95,250.73 393.79,249.17 393.79,250.33 389.95,251.90" fill="#231815" />
<text x="0" y="0" font-size="10.90" fill="#fff" text-anchor="middle" font-weight="bold" transform="translate(291.62 264.72) rotate(21.7) skewX(-9.0)" letter-spacing="0.4">UNIX サーバ</text>
<polygon points="258.75,196.25 327.75,172.50 400.00,197.50 331.00,221.25" fill="url(#g32)" />
<polygon points="258.75,196.25 331.00,221.25 331.00,253.75 258.75,228.75" fill="#5b78be" />
<polygon points="331.00,221.25 400.00,197.50 400.00,228.75 331.00,253.75" fill="url(#g33)" />
<polyline points="258.75,196.25 331.00,221.25 400.00,197.50" fill="none" stroke="#ffffff" stroke-width="1" stroke-opacity="0.65"/>
<line x1="331.00" y1="221.25" x2="331.00" y2="253.75" stroke="#ffffff" stroke-width="0.8" stroke-opacity="0.65"/>
<polygon points="258.75,158.75 328.25,137.50 400.00,161.25 330.50,182.50" fill="url(#g34)" />
<polygon points="258.75,158.75 330.50,182.50 330.50,215.00 258.75,190.00" fill="#bccad3" />
<polygon points="330.50,182.50 400.00,161.25 400.00,192.50 330.50,215.00" fill="url(#g35)" />
<polyline points="258.75,158.75 330.50,182.50 400.00,161.25" fill="none" stroke="#ffffff" stroke-width="1" stroke-opacity="0.65"/>
<line x1="330.50" y1="182.50" x2="330.50" y2="215.00" stroke="#ffffff" stroke-width="0.8" stroke-opacity="0.65"/>
<polygon points="258.75,121.25 331.25,96.25 400.00,126.25 330.50,146.25" fill="url(#g36)" />
<polygon points="258.75,121.25 330.50,146.25 330.50,177.50 258.75,152.50" fill="#4ab3d3" />
<polygon points="330.50,146.25 400.00,126.25 400.00,155.00 330.50,177.50" fill="url(#g37)" />
<polyline points="258.75,121.25 330.50,146.25 400.00,126.25" fill="none" stroke="#d8eef5" stroke-width="1" stroke-opacity="0.65"/>
<line x1="330.50" y1="146.25" x2="330.50" y2="177.50" stroke="#d8eef5" stroke-width="0.8" stroke-opacity="0.65"/>
<text x="0" y="0" font-size="10.50" fill="#fff" text-anchor="middle" font-weight="bold" transform="translate(295.00 154.30) rotate(19.0) skewX(-9.0)" >データベース</text>
<text x="0" y="0" font-size="11.00" fill="#fff" text-anchor="middle" font-weight="bold" transform="translate(294.00 190.80) rotate(18.0) skewX(-3.0)" >H A</text>
<text x="0" y="0" font-size="11.50" fill="#fff" text-anchor="middle" font-weight="bold" transform="translate(292.50 230.30) rotate(18.0) skewX(-9.0)" letter-spacing="0.6">UNIX</text>
<polygon points="411.00,267.50 487.75,242.50 557.00,267.50 480.25,292.50" fill="#6a6a6a" />
<polygon points="411.00,267.50 480.25,292.50 480.25,330.00 411.00,300.00" fill="url(#g38)" />
<polygon points="411.00,267.50 480.25,292.50 480.25,295.50 411.00,269.10" fill="#8c8c8c" />
<polygon points="480.25,292.50 557.00,267.50 557.00,268.50 480.25,296.75" fill="#4d4d4d" />
<polygon points="480.25,296.25 557.00,267.90 557.00,296.25 480.25,330.00" fill="#565656" />
<polygon points="542.80,273.14 549.71,270.59 549.71,299.46 542.80,302.49" fill="#3b3736" />
<polygon points="480.25,296.25 490.61,292.42 490.61,325.44 480.25,330.00" fill="url(#g39)" />
<polygon points="480.25,296.25 481.17,295.91 481.17,329.60 480.25,330.00" fill="#231815" />
<polygon points="490.61,292.42 542.80,273.14 542.80,275.20 490.61,294.73" fill="#858585" />
<polygon points="490.61,323.13 542.80,300.44 542.80,302.49 490.61,325.44" fill="#404040" />
<polygon points="549.71,270.59 557.00,267.90 557.00,296.25 549.71,299.46" fill="#231815" />
<polygon points="548.56,271.02 550.09,270.45 550.09,299.29 548.56,299.96" fill="#3e3a39" />
<polygon points="495.22,299.55 496.98,298.86 496.98,312.54 495.22,313.28" fill="#1a1311" />
<polygon points="495.22,296.61 496.98,295.93 496.98,298.86 495.22,299.55" fill="#d7f205" />
<polygon points="499.05,298.06 500.82,297.37 500.82,310.94 499.05,311.68" fill="#1a1311" />
<polygon points="499.05,295.14 500.82,294.47 500.82,297.37 499.05,298.06" fill="#d7f205" />
<polygon points="502.89,296.57 504.66,295.88 504.66,309.34 502.89,310.08" fill="#1a1311" />
<polygon points="502.89,293.68 504.66,293.00 504.66,295.88 502.89,296.57" fill="#d7f205" />
<polygon points="506.73,295.08 508.49,294.39 508.49,307.73 506.73,308.47" fill="#1a1311" />
<polygon points="506.73,292.21 508.49,291.53 508.49,294.39 506.73,295.08" fill="#d7f205" />
<polygon points="510.57,293.59 512.33,292.90 512.33,306.13 510.57,306.87" fill="#1a1311" />
<polygon points="510.57,290.74 512.33,290.07 512.33,292.90 510.57,293.59" fill="#d7f205" />
<polygon points="514.40,292.10 516.17,291.41 516.17,304.53 514.40,305.26" fill="#1a1311" />
<polygon points="514.40,289.28 516.17,288.60 516.17,291.41 514.40,292.10" fill="#d7f205" />
<polygon points="492.15,316.87 505.58,311.19 505.58,314.71 492.15,320.49" fill="#1a1311" />
<polygon points="508.26,310.05 516.32,306.65 516.32,310.08 508.26,313.55" fill="#2a2422" />
<polygon points="523.61,285.45 541.65,278.57 541.65,298.88 523.61,306.63" fill="#9a9a9a" />
<polygon points="525.15,287.31 540.12,281.52 540.12,285.95 525.15,291.90" fill="#5f5f5f" />
<polygon points="525.15,294.04 540.12,288.02 540.12,297.47 525.15,303.83" fill="#5c5c5c" />
<polygon points="543.95,278.28 547.79,276.81 547.79,277.97 543.95,279.45" fill="#231815" />
<polygon points="543.95,280.77 547.79,279.28 547.79,280.44 543.95,281.94" fill="#231815" />
<polygon points="543.95,283.26 547.79,281.74 547.79,282.90 543.95,284.43" fill="#231815" />
<polygon points="543.95,285.74 547.79,284.21 547.79,285.37 543.95,286.91" fill="#231815" />
<polygon points="543.95,288.23 547.79,286.67 547.79,287.83 543.95,289.40" fill="#231815" />
<text x="0" y="0" font-size="10.90" fill="#fff" text-anchor="middle" font-weight="bold" transform="translate(445.62 302.22) rotate(21.7) skewX(-9.0)" letter-spacing="0.4">UNIX サーバ</text>
<polygon points="412.75,233.75 481.75,210.00 554.00,235.00 485.00,258.75" fill="url(#g40)" />
<polygon points="412.75,233.75 485.00,258.75 485.00,291.25 412.75,266.25" fill="#5b78be" />
<polygon points="485.00,258.75 554.00,235.00 554.00,266.25 485.00,291.25" fill="url(#g41)" />
<polyline points="412.75,233.75 485.00,258.75 554.00,235.00" fill="none" stroke="#ffffff" stroke-width="1" stroke-opacity="0.65"/>
<line x1="485.00" y1="258.75" x2="485.00" y2="291.25" stroke="#ffffff" stroke-width="0.8" stroke-opacity="0.65"/>
<polygon points="412.75,196.25 482.25,175.00 554.00,198.75 484.50,220.00" fill="url(#g42)" />
<polygon points="412.75,196.25 484.50,220.00 484.50,252.50 412.75,227.50" fill="#bccad3" />
<polygon points="484.50,220.00 554.00,198.75 554.00,230.00 484.50,252.50" fill="url(#g43)" />
<polyline points="412.75,196.25 484.50,220.00 554.00,198.75" fill="none" stroke="#ffffff" stroke-width="1" stroke-opacity="0.65"/>
<line x1="484.50" y1="220.00" x2="484.50" y2="252.50" stroke="#ffffff" stroke-width="0.8" stroke-opacity="0.65"/>
<polygon points="412.75,158.75 485.25,133.75 554.00,163.75 484.50,183.75" fill="url(#g44)" />
<polygon points="412.75,158.75 484.50,183.75 484.50,215.00 412.75,190.00" fill="#4ab3d3" />
<polygon points="484.50,183.75 554.00,163.75 554.00,192.50 484.50,215.00" fill="url(#g45)" />
<polyline points="412.75,158.75 484.50,183.75 554.00,163.75" fill="none" stroke="#d8eef5" stroke-width="1" stroke-opacity="0.65"/>
<line x1="484.50" y1="183.75" x2="484.50" y2="215.00" stroke="#d8eef5" stroke-width="0.8" stroke-opacity="0.65"/>
<text x="0" y="0" font-size="10.50" fill="#fff" text-anchor="middle" font-weight="bold" transform="translate(449.00 191.80) rotate(19.0) skewX(-9.0)" >データベース</text>
<text x="0" y="0" font-size="11.00" fill="#fff" text-anchor="middle" font-weight="bold" transform="translate(448.00 228.30) rotate(18.0) skewX(-3.0)" >H A</text>
<text x="0" y="0" font-size="11.50" fill="#fff" text-anchor="middle" font-weight="bold" transform="translate(446.50 267.80) rotate(18.0) skewX(-9.0)" letter-spacing="0.6">UNIX</text>
<polygon points="642.30,236.75 719.05,215.50 788.30,234.25 711.55,255.50" fill="#6a6a6a" />
<polygon points="642.30,236.75 711.55,255.50 711.55,283.00 642.30,260.50" fill="url(#g46)" />
<polygon points="642.30,236.75 711.55,255.50 711.55,257.58 642.30,238.35" fill="#8c8c8c" />
<polygon points="711.55,255.50 788.30,234.25 788.30,235.25 711.55,258.60" fill="#4d4d4d" />
<polygon points="711.55,258.10 788.30,234.65 788.30,258.00 711.55,283.00" fill="#565656" />
<polygon points="774.10,238.99 781.01,236.88 781.01,260.38 774.10,262.62" fill="#3b3736" />
<polygon points="711.55,258.10 721.91,254.93 721.91,279.62 711.55,283.00" fill="url(#g47)" />
<polygon points="711.55,258.10 712.47,257.82 712.47,282.70 711.55,283.00" fill="#231815" />
<polygon points="721.91,254.93 774.10,238.99 774.10,240.64 721.91,256.66" fill="#858585" />
<polygon points="721.91,277.90 774.10,260.97 774.10,262.62 721.91,279.62" fill="#404040" />
<polygon points="781.01,236.88 788.30,234.65 788.30,258.00 781.01,260.38" fill="#231815" />
<polygon points="779.86,237.23 781.39,236.76 781.39,260.25 779.86,260.75" fill="#3e3a39" />
<polygon points="726.52,260.17 728.28,259.62 728.28,269.94 726.52,270.50" fill="#1a1311" />
<polygon points="726.52,257.95 728.28,257.41 728.28,259.62 726.52,260.17" fill="#d7f205" />
<polygon points="730.35,258.98 732.12,258.43 732.12,268.71 730.35,269.27" fill="#1a1311" />
<polygon points="730.35,256.77 732.12,256.22 732.12,258.43 730.35,258.98" fill="#d7f205" />
<polygon points="734.19,257.78 735.96,257.23 735.96,267.48 734.19,268.05" fill="#1a1311" />
<polygon points="734.19,255.58 735.96,255.04 735.96,257.23 734.19,257.78" fill="#d7f205" />
<polygon points="738.03,256.59 739.79,256.04 739.79,266.26 738.03,266.82" fill="#1a1311" />
<polygon points="738.03,254.40 739.79,253.85 739.79,256.04 738.03,256.59" fill="#d7f205" />
<polygon points="741.87,255.39 743.63,254.85 743.63,265.03 741.87,265.60" fill="#1a1311" />
<polygon points="741.87,253.21 743.63,252.66 743.63,254.85 741.87,255.39" fill="#d7f205" />
<polygon points="745.70,254.20 747.47,253.65 747.47,263.81 745.70,264.37" fill="#1a1311" />
<polygon points="745.70,252.02 747.47,251.48 747.47,253.65 745.70,254.20" fill="#d7f205" />
<polygon points="723.45,273.21 736.88,268.90 736.88,271.58 723.45,275.92" fill="#1a1311" />
<polygon points="739.56,268.03 747.62,265.45 747.62,268.11 739.56,270.71" fill="#2a2422" />
<polygon points="754.91,248.93 772.95,243.36 772.95,259.69 754.91,265.51" fill="#9a9a9a" />
<polygon points="756.45,250.38 771.41,245.73 771.41,249.29 756.45,253.98" fill="#5f5f5f" />
<polygon points="756.45,255.66 771.41,250.94 771.41,258.52 756.45,263.34" fill="#5c5c5c" />
<polygon points="775.25,243.12 779.09,241.94 779.09,242.88 775.25,244.07" fill="#231815" />
<polygon points="775.25,245.13 779.09,243.94 779.09,244.88 775.25,246.07" fill="#231815" />
<polygon points="775.25,247.14 779.09,245.94 779.09,246.88 775.25,248.08" fill="#231815" />
<polygon points="775.25,249.14 779.09,247.94 779.09,248.88 775.25,250.09" fill="#231815" />
<polygon points="775.25,251.15 779.09,249.94 779.09,250.88 775.25,252.10" fill="#231815" />
<polygon points="642.30,208.00 713.30,188.80 785.30,209.80 714.30,229.00" fill="url(#g48)" />
<polygon points="642.30,208.00 714.30,229.00 714.30,253.50 642.30,235.50" fill="#bccad3" />
<polygon points="714.30,229.00 785.30,209.80 785.30,234.00 714.30,253.50" fill="url(#g49)" />
<polyline points="642.30,208.00 714.30,229.00 785.30,209.80" fill="none" stroke="#ffffff" stroke-width="1" stroke-opacity="0.65"/>
<line x1="714.30" y1="229.00" x2="714.30" y2="253.50" stroke="#ffffff" stroke-width="0.8" stroke-opacity="0.65"/>
<polygon points="687.80,177.25 709.30,170.25 730.80,177.75 709.30,184.75" fill="#c9d2ea" />
<polygon points="687.80,177.25 709.30,184.75 709.30,204.25 687.80,196.75" fill="#5b78be" />
<polygon points="709.30,184.75 730.80,177.75 730.80,197.25 709.30,204.25" fill="url(#g50)" />
<polyline points="687.80,177.25 709.30,184.75 730.80,177.75" fill="none" stroke="#ffffff" stroke-width="1" stroke-opacity="0.65"/>
<line x1="709.30" y1="184.75" x2="709.30" y2="204.25" stroke="#ffffff" stroke-width="0.8" stroke-opacity="0.65"/>
<polygon points="687.80,156.75 709.30,149.75 730.80,157.25 709.30,164.25" fill="url(#g51)" />
<polygon points="687.80,156.75 709.30,164.25 709.30,183.75 687.80,176.25" fill="#ccff00" />
<polygon points="709.30,164.25 730.80,157.25 730.80,176.75 709.30,183.75" fill="url(#g52)" />
<polyline points="687.80,156.75 709.30,164.25 730.80,157.25" fill="none" stroke="#f6ffe0" stroke-width="1" stroke-opacity="0.65"/>
<line x1="709.30" y1="164.25" x2="709.30" y2="183.75" stroke="#f6ffe0" stroke-width="0.8" stroke-opacity="0.65"/>
<polygon points="650.30,186.00 671.80,179.00 693.30,186.50 671.80,193.50" fill="#c9d2ea" />
<polygon points="650.30,186.00 671.80,193.50 671.80,213.00 650.30,205.50" fill="#5b78be" />
<polygon points="671.80,193.50 693.30,186.50 693.30,206.00 671.80,213.00" fill="url(#g53)" />
<polyline points="650.30,186.00 671.80,193.50 693.30,186.50" fill="none" stroke="#ffffff" stroke-width="1" stroke-opacity="0.65"/>
<line x1="671.80" y1="193.50" x2="671.80" y2="213.00" stroke="#ffffff" stroke-width="0.8" stroke-opacity="0.65"/>
<polygon points="650.30,165.50 671.80,158.50 693.30,166.00 671.80,173.00" fill="url(#g54)" />
<polygon points="650.30,165.50 671.80,173.00 671.80,192.50 650.30,185.00" fill="#ccff00" />
<polygon points="671.80,173.00 693.30,166.00 693.30,185.50 671.80,192.50" fill="url(#g55)" />
<polyline points="650.30,165.50 671.80,173.00 693.30,166.00" fill="none" stroke="#f6ffe0" stroke-width="1" stroke-opacity="0.65"/>
<line x1="671.80" y1="173.00" x2="671.80" y2="192.50" stroke="#f6ffe0" stroke-width="0.8" stroke-opacity="0.65"/>
<polygon points="729.05,183.50 750.55,176.50 772.05,184.00 750.55,191.00" fill="#c9d2ea" />
<polygon points="729.05,183.50 750.55,191.00 750.55,210.50 729.05,203.00" fill="#5b78be" />
<polygon points="750.55,191.00 772.05,184.00 772.05,203.50 750.55,210.50" fill="url(#g56)" />
<polyline points="729.05,183.50 750.55,191.00 772.05,184.00" fill="none" stroke="#ffffff" stroke-width="1" stroke-opacity="0.65"/>
<line x1="750.55" y1="191.00" x2="750.55" y2="210.50" stroke="#ffffff" stroke-width="0.8" stroke-opacity="0.65"/>
<polygon points="729.05,163.00 750.55,156.00 772.05,163.50 750.55,170.50" fill="url(#g57)" />
<polygon points="729.05,163.00 750.55,170.50 750.55,190.00 729.05,182.50" fill="#ccff00" />
<polygon points="750.55,170.50 772.05,163.50 772.05,183.00 750.55,190.00" fill="url(#g58)" />
<polyline points="729.05,163.00 750.55,170.50 772.05,163.50" fill="none" stroke="#f6ffe0" stroke-width="1" stroke-opacity="0.65"/>
<line x1="750.55" y1="170.50" x2="750.55" y2="190.00" stroke="#f6ffe0" stroke-width="0.8" stroke-opacity="0.65"/>
<polygon points="693.30,197.25 714.80,190.25 736.30,197.75 714.80,204.75" fill="#c9d2ea" />
<polygon points="693.30,197.25 714.80,204.75 714.80,224.25 693.30,216.75" fill="#5b78be" />
<polygon points="714.80,204.75 736.30,197.75 736.30,217.25 714.80,224.25" fill="url(#g59)" />
<polyline points="693.30,197.25 714.80,204.75 736.30,197.75" fill="none" stroke="#ffffff" stroke-width="1" stroke-opacity="0.65"/>
<line x1="714.80" y1="204.75" x2="714.80" y2="224.25" stroke="#ffffff" stroke-width="0.8" stroke-opacity="0.65"/>
<polygon points="693.30,176.75 714.80,169.75 736.30,177.25 714.80,184.25" fill="url(#g60)" />
<polygon points="693.30,176.75 714.80,184.25 714.80,203.75 693.30,196.25" fill="#ccff00" />
<polygon points="714.80,184.25 736.30,177.25 736.30,196.75 714.80,203.75" fill="url(#g61)" />
<polyline points="693.30,176.75 714.80,184.25 736.30,177.25" fill="none" stroke="#f6ffe0" stroke-width="1" stroke-opacity="0.65"/>
<line x1="714.80" y1="184.25" x2="714.80" y2="203.75" stroke="#f6ffe0" stroke-width="0.8" stroke-opacity="0.65"/>
<polygon points="610.00,288.75 686.75,267.50 756.00,286.25 679.25,307.50" fill="#6a6a6a" />
<polygon points="610.00,288.75 679.25,307.50 679.25,335.00 610.00,312.50" fill="url(#g62)" />
<polygon points="610.00,288.75 679.25,307.50 679.25,309.58 610.00,290.35" fill="#8c8c8c" />
<polygon points="679.25,307.50 756.00,286.25 756.00,287.25 679.25,310.60" fill="#4d4d4d" />
<polygon points="679.25,310.10 756.00,286.65 756.00,310.00 679.25,335.00" fill="#565656" />
<polygon points="741.80,290.99 748.71,288.88 748.71,312.38 741.80,314.62" fill="#3b3736" />
<polygon points="679.25,310.10 689.61,306.93 689.61,331.62 679.25,335.00" fill="url(#g63)" />
<polygon points="679.25,310.10 680.17,309.82 680.17,334.70 679.25,335.00" fill="#231815" />
<polygon points="689.61,306.93 741.80,290.99 741.80,292.64 689.61,308.66" fill="#858585" />
<polygon points="689.61,329.90 741.80,312.97 741.80,314.62 689.61,331.62" fill="#404040" />
<polygon points="748.71,288.88 756.00,286.65 756.00,310.00 748.71,312.38" fill="#231815" />
<polygon points="747.56,289.23 749.09,288.76 749.09,312.25 747.56,312.75" fill="#3e3a39" />
<polygon points="694.22,312.17 695.98,311.62 695.98,321.94 694.22,322.50" fill="#1a1311" />
<polygon points="694.22,309.95 695.98,309.41 695.98,311.62 694.22,312.17" fill="#d7f205" />
<polygon points="698.05,310.98 699.82,310.43 699.82,320.71 698.05,321.27" fill="#1a1311" />
<polygon points="698.05,308.77 699.82,308.22 699.82,310.43 698.05,310.98" fill="#d7f205" />
<polygon points="701.89,309.78 703.66,309.23 703.66,319.48 701.89,320.05" fill="#1a1311" />
<polygon points="701.89,307.58 703.66,307.04 703.66,309.23 701.89,309.78" fill="#d7f205" />
<polygon points="705.73,308.59 707.49,308.04 707.49,318.26 705.73,318.82" fill="#1a1311" />
<polygon points="705.73,306.40 707.49,305.85 707.49,308.04 705.73,308.59" fill="#d7f205" />
<polygon points="709.57,307.39 711.33,306.85 711.33,317.03 709.57,317.60" fill="#1a1311" />
<polygon points="709.57,305.21 711.33,304.66 711.33,306.85 709.57,307.39" fill="#d7f205" />
<polygon points="713.40,306.20 715.17,305.65 715.17,315.81 713.40,316.37" fill="#1a1311" />
<polygon points="713.40,304.02 715.17,303.48 715.17,305.65 713.40,306.20" fill="#d7f205" />
<polygon points="691.15,325.21 704.58,320.90 704.58,323.58 691.15,327.92" fill="#1a1311" />
<polygon points="707.26,320.03 715.32,317.45 715.32,320.11 707.26,322.71" fill="#2a2422" />
<polygon points="722.61,300.93 740.65,295.36 740.65,311.69 722.61,317.51" fill="#9a9a9a" />
<polygon points="724.15,302.38 739.12,297.73 739.12,301.29 724.15,305.98" fill="#5f5f5f" />
<polygon points="724.15,307.66 739.12,302.94 739.12,310.52 724.15,315.34" fill="#5c5c5c" />
<polygon points="742.95,295.12 746.79,293.94 746.79,294.88 742.95,296.07" fill="#231815" />
<polygon points="742.95,297.13 746.79,295.94 746.79,296.88 742.95,298.07" fill="#231815" />
<polygon points="742.95,299.14 746.79,297.94 746.79,298.88 742.95,300.08" fill="#231815" />
<polygon points="742.95,301.14 746.79,299.94 746.79,300.88 742.95,302.09" fill="#231815" />
<polygon points="742.95,303.15 746.79,301.94 746.79,302.88 742.95,304.10" fill="#231815" />
<polygon points="610.00,260.00 681.00,240.80 753.00,261.80 682.00,281.00" fill="url(#g64)" />
<polygon points="610.00,260.00 682.00,281.00 682.00,305.50 610.00,287.50" fill="#bccad3" />
<polygon points="682.00,281.00 753.00,261.80 753.00,286.00 682.00,305.50" fill="url(#g65)" />
<polyline points="610.00,260.00 682.00,281.00 753.00,261.80" fill="none" stroke="#ffffff" stroke-width="1" stroke-opacity="0.65"/>
<line x1="682.00" y1="281.00" x2="682.00" y2="305.50" stroke="#ffffff" stroke-width="0.8" stroke-opacity="0.65"/>
<polygon points="655.50,229.25 677.00,222.25 698.50,229.75 677.00,236.75" fill="#c9d2ea" />
<polygon points="655.50,229.25 677.00,236.75 677.00,256.25 655.50,248.75" fill="#5b78be" />
<polygon points="677.00,236.75 698.50,229.75 698.50,249.25 677.00,256.25" fill="url(#g66)" />
<polyline points="655.50,229.25 677.00,236.75 698.50,229.75" fill="none" stroke="#ffffff" stroke-width="1" stroke-opacity="0.65"/>
<line x1="677.00" y1="236.75" x2="677.00" y2="256.25" stroke="#ffffff" stroke-width="0.8" stroke-opacity="0.65"/>
<polygon points="655.50,208.75 677.00,201.75 698.50,209.25 677.00,216.25" fill="url(#g67)" />
<polygon points="655.50,208.75 677.00,216.25 677.00,235.75 655.50,228.25" fill="#ccff00" />
<polygon points="677.00,216.25 698.50,209.25 698.50,228.75 677.00,235.75" fill="url(#g68)" />
<polyline points="655.50,208.75 677.00,216.25 698.50,209.25" fill="none" stroke="#f6ffe0" stroke-width="1" stroke-opacity="0.65"/>
<line x1="677.00" y1="216.25" x2="677.00" y2="235.75" stroke="#f6ffe0" stroke-width="0.8" stroke-opacity="0.65"/>
<polygon points="618.00,238.00 639.50,231.00 661.00,238.50 639.50,245.50" fill="#c9d2ea" />
<polygon points="618.00,238.00 639.50,245.50 639.50,265.00 618.00,257.50" fill="#5b78be" />
<polygon points="639.50,245.50 661.00,238.50 661.00,258.00 639.50,265.00" fill="url(#g69)" />
<polyline points="618.00,238.00 639.50,245.50 661.00,238.50" fill="none" stroke="#ffffff" stroke-width="1" stroke-opacity="0.65"/>
<line x1="639.50" y1="245.50" x2="639.50" y2="265.00" stroke="#ffffff" stroke-width="0.8" stroke-opacity="0.65"/>
<polygon points="618.00,217.50 639.50,210.50 661.00,218.00 639.50,225.00" fill="url(#g70)" />
<polygon points="618.00,217.50 639.50,225.00 639.50,244.50 618.00,237.00" fill="#ccff00" />
<polygon points="639.50,225.00 661.00,218.00 661.00,237.50 639.50,244.50" fill="url(#g71)" />
<polyline points="618.00,217.50 639.50,225.00 661.00,218.00" fill="none" stroke="#f6ffe0" stroke-width="1" stroke-opacity="0.65"/>
<line x1="639.50" y1="225.00" x2="639.50" y2="244.50" stroke="#f6ffe0" stroke-width="0.8" stroke-opacity="0.65"/>
<polygon points="696.75,235.50 718.25,228.50 739.75,236.00 718.25,243.00" fill="#c9d2ea" />
<polygon points="696.75,235.50 718.25,243.00 718.25,262.50 696.75,255.00" fill="#5b78be" />
<polygon points="718.25,243.00 739.75,236.00 739.75,255.50 718.25,262.50" fill="url(#g72)" />
<polyline points="696.75,235.50 718.25,243.00 739.75,236.00" fill="none" stroke="#ffffff" stroke-width="1" stroke-opacity="0.65"/>
<line x1="718.25" y1="243.00" x2="718.25" y2="262.50" stroke="#ffffff" stroke-width="0.8" stroke-opacity="0.65"/>
<polygon points="696.75,215.00 718.25,208.00 739.75,215.50 718.25,222.50" fill="url(#g73)" />
<polygon points="696.75,215.00 718.25,222.50 718.25,242.00 696.75,234.50" fill="#ccff00" />
<polygon points="718.25,222.50 739.75,215.50 739.75,235.00 718.25,242.00" fill="url(#g74)" />
<polyline points="696.75,215.00 718.25,222.50 739.75,215.50" fill="none" stroke="#f6ffe0" stroke-width="1" stroke-opacity="0.65"/>
<line x1="718.25" y1="222.50" x2="718.25" y2="242.00" stroke="#f6ffe0" stroke-width="0.8" stroke-opacity="0.65"/>
<polygon points="661.00,249.25 682.50,242.25 704.00,249.75 682.50,256.75" fill="#c9d2ea" />
<polygon points="661.00,249.25 682.50,256.75 682.50,276.25 661.00,268.75" fill="#5b78be" />
<polygon points="682.50,256.75 704.00,249.75 704.00,269.25 682.50,276.25" fill="url(#g75)" />
<polyline points="661.00,249.25 682.50,256.75 704.00,249.75" fill="none" stroke="#ffffff" stroke-width="1" stroke-opacity="0.65"/>
<line x1="682.50" y1="256.75" x2="682.50" y2="276.25" stroke="#ffffff" stroke-width="0.8" stroke-opacity="0.65"/>
<polygon points="661.00,228.75 682.50,221.75 704.00,229.25 682.50,236.25" fill="url(#g76)" />
<polygon points="661.00,228.75 682.50,236.25 682.50,255.75 661.00,248.25" fill="#ccff00" />
<polygon points="682.50,236.25 704.00,229.25 704.00,248.75 682.50,255.75" fill="url(#g77)" />
<polyline points="661.00,228.75 682.50,236.25 704.00,229.25" fill="none" stroke="#f6ffe0" stroke-width="1" stroke-opacity="0.65"/>
<line x1="682.50" y1="236.25" x2="682.50" y2="255.75" stroke="#f6ffe0" stroke-width="0.8" stroke-opacity="0.65"/>
<polygon points="577.00,338.75 653.75,317.50 723.00,336.25 646.25,357.50" fill="#6a6a6a" />
<polygon points="577.00,338.75 646.25,357.50 646.25,385.00 577.00,362.50" fill="url(#g78)" />
<polygon points="577.00,338.75 646.25,357.50 646.25,359.58 577.00,340.35" fill="#8c8c8c" />
<polygon points="646.25,357.50 723.00,336.25 723.00,337.25 646.25,360.60" fill="#4d4d4d" />
<polygon points="646.25,360.10 723.00,336.65 723.00,360.00 646.25,385.00" fill="#565656" />
<polygon points="708.80,340.99 715.71,338.88 715.71,362.38 708.80,364.62" fill="#3b3736" />
<polygon points="646.25,360.10 656.61,356.93 656.61,381.62 646.25,385.00" fill="url(#g79)" />
<polygon points="646.25,360.10 647.17,359.82 647.17,384.70 646.25,385.00" fill="#231815" />
<polygon points="656.61,356.93 708.80,340.99 708.80,342.64 656.61,358.66" fill="#858585" />
<polygon points="656.61,379.90 708.80,362.97 708.80,364.62 656.61,381.62" fill="#404040" />
<polygon points="715.71,338.88 723.00,336.65 723.00,360.00 715.71,362.38" fill="#231815" />
<polygon points="714.56,339.23 716.09,338.76 716.09,362.25 714.56,362.75" fill="#3e3a39" />
<polygon points="661.22,362.17 662.98,361.62 662.98,371.94 661.22,372.50" fill="#1a1311" />
<polygon points="661.22,359.95 662.98,359.41 662.98,361.62 661.22,362.17" fill="#d7f205" />
<polygon points="665.05,360.98 666.82,360.43 666.82,370.71 665.05,371.27" fill="#1a1311" />
<polygon points="665.05,358.77 666.82,358.22 666.82,360.43 665.05,360.98" fill="#d7f205" />
<polygon points="668.89,359.78 670.66,359.23 670.66,369.48 668.89,370.05" fill="#1a1311" />
<polygon points="668.89,357.58 670.66,357.04 670.66,359.23 668.89,359.78" fill="#d7f205" />
<polygon points="672.73,358.59 674.49,358.04 674.49,368.26 672.73,368.82" fill="#1a1311" />
<polygon points="672.73,356.40 674.49,355.85 674.49,358.04 672.73,358.59" fill="#d7f205" />
<polygon points="676.57,357.39 678.33,356.85 678.33,367.03 676.57,367.60" fill="#1a1311" />
<polygon points="676.57,355.21 678.33,354.66 678.33,356.85 676.57,357.39" fill="#d7f205" />
<polygon points="680.40,356.20 682.17,355.65 682.17,365.81 680.40,366.37" fill="#1a1311" />
<polygon points="680.40,354.02 682.17,353.48 682.17,355.65 680.40,356.20" fill="#d7f205" />
<polygon points="658.15,375.21 671.58,370.90 671.58,373.58 658.15,377.92" fill="#1a1311" />
<polygon points="674.26,370.03 682.32,367.45 682.32,370.11 674.26,372.71" fill="#2a2422" />
<polygon points="689.61,350.93 707.65,345.36 707.65,361.69 689.61,367.51" fill="#9a9a9a" />
<polygon points="691.15,352.38 706.12,347.73 706.12,351.29 691.15,355.98" fill="#5f5f5f" />
<polygon points="691.15,357.66 706.12,352.94 706.12,360.52 691.15,365.34" fill="#5c5c5c" />
<polygon points="709.95,345.12 713.79,343.94 713.79,344.88 709.95,346.07" fill="#231815" />
<polygon points="709.95,347.13 713.79,345.94 713.79,346.88 709.95,348.07" fill="#231815" />
<polygon points="709.95,349.14 713.79,347.94 713.79,348.88 709.95,350.08" fill="#231815" />
<polygon points="709.95,351.14 713.79,349.94 713.79,350.88 709.95,352.09" fill="#231815" />
<polygon points="709.95,353.15 713.79,351.94 713.79,352.88 709.95,354.10" fill="#231815" />
<text x="0" y="0" font-size="11.00" fill="#fff" text-anchor="middle" font-weight="bold" transform="translate(614.05 366.42) rotate(16.6) skewX(-9.0)" letter-spacing="0.4">IA サーバ</text>
<polygon points="577.00,310.00 648.00,290.80 720.00,311.80 649.00,331.00" fill="url(#g80)" />
<polygon points="577.00,310.00 649.00,331.00 649.00,355.50 577.00,337.50" fill="#bccad3" />
<polygon points="649.00,331.00 720.00,311.80 720.00,336.00 649.00,355.50" fill="url(#g81)" />
<polyline points="577.00,310.00 649.00,331.00 720.00,311.80" fill="none" stroke="#ffffff" stroke-width="1" stroke-opacity="0.65"/>
<line x1="649.00" y1="331.00" x2="649.00" y2="355.50" stroke="#ffffff" stroke-width="0.8" stroke-opacity="0.65"/>
<polygon points="622.50,279.25 644.00,272.25 665.50,279.75 644.00,286.75" fill="#c9d2ea" />
<polygon points="622.50,279.25 644.00,286.75 644.00,306.25 622.50,298.75" fill="#5b78be" />
<polygon points="644.00,286.75 665.50,279.75 665.50,299.25 644.00,306.25" fill="url(#g82)" />
<polyline points="622.50,279.25 644.00,286.75 665.50,279.75" fill="none" stroke="#ffffff" stroke-width="1" stroke-opacity="0.65"/>
<line x1="644.00" y1="286.75" x2="644.00" y2="306.25" stroke="#ffffff" stroke-width="0.8" stroke-opacity="0.65"/>
<polygon points="622.50,258.75 644.00,251.75 665.50,259.25 644.00,266.25" fill="url(#g83)" />
<polygon points="622.50,258.75 644.00,266.25 644.00,285.75 622.50,278.25" fill="#ccff00" />
<polygon points="644.00,266.25 665.50,259.25 665.50,278.75 644.00,285.75" fill="url(#g84)" />
<polyline points="622.50,258.75 644.00,266.25 665.50,259.25" fill="none" stroke="#f6ffe0" stroke-width="1" stroke-opacity="0.65"/>
<line x1="644.00" y1="266.25" x2="644.00" y2="285.75" stroke="#f6ffe0" stroke-width="0.8" stroke-opacity="0.65"/>
<polygon points="585.00,288.00 606.50,281.00 628.00,288.50 606.50,295.50" fill="#c9d2ea" />
<polygon points="585.00,288.00 606.50,295.50 606.50,315.00 585.00,307.50" fill="#5b78be" />
<polygon points="606.50,295.50 628.00,288.50 628.00,308.00 606.50,315.00" fill="url(#g85)" />
<polyline points="585.00,288.00 606.50,295.50 628.00,288.50" fill="none" stroke="#ffffff" stroke-width="1" stroke-opacity="0.65"/>
<line x1="606.50" y1="295.50" x2="606.50" y2="315.00" stroke="#ffffff" stroke-width="0.8" stroke-opacity="0.65"/>
<polygon points="585.00,267.50 606.50,260.50 628.00,268.00 606.50,275.00" fill="url(#g86)" />
<polygon points="585.00,267.50 606.50,275.00 606.50,294.50 585.00,287.00" fill="#ccff00" />
<polygon points="606.50,275.00 628.00,268.00 628.00,287.50 606.50,294.50" fill="url(#g87)" />
<polyline points="585.00,267.50 606.50,275.00 628.00,268.00" fill="none" stroke="#f6ffe0" stroke-width="1" stroke-opacity="0.65"/>
<line x1="606.50" y1="275.00" x2="606.50" y2="294.50" stroke="#f6ffe0" stroke-width="0.8" stroke-opacity="0.65"/>
<polygon points="663.75,285.50 685.25,278.50 706.75,286.00 685.25,293.00" fill="#c9d2ea" />
<polygon points="663.75,285.50 685.25,293.00 685.25,312.50 663.75,305.00" fill="#5b78be" />
<polygon points="685.25,293.00 706.75,286.00 706.75,305.50 685.25,312.50" fill="url(#g88)" />
<polyline points="663.75,285.50 685.25,293.00 706.75,286.00" fill="none" stroke="#ffffff" stroke-width="1" stroke-opacity="0.65"/>
<line x1="685.25" y1="293.00" x2="685.25" y2="312.50" stroke="#ffffff" stroke-width="0.8" stroke-opacity="0.65"/>
<polygon points="663.75,265.00 685.25,258.00 706.75,265.50 685.25,272.50" fill="url(#g89)" />
<polygon points="663.75,265.00 685.25,272.50 685.25,292.00 663.75,284.50" fill="#ccff00" />
<polygon points="685.25,272.50 706.75,265.50 706.75,285.00 685.25,292.00" fill="url(#g90)" />
<polyline points="663.75,265.00 685.25,272.50 706.75,265.50" fill="none" stroke="#f6ffe0" stroke-width="1" stroke-opacity="0.65"/>
<line x1="685.25" y1="272.50" x2="685.25" y2="292.00" stroke="#f6ffe0" stroke-width="0.8" stroke-opacity="0.65"/>
<polygon points="628.00,299.25 649.50,292.25 671.00,299.75 649.50,306.75" fill="#c9d2ea" />
<polygon points="628.00,299.25 649.50,306.75 649.50,326.25 628.00,318.75" fill="#5b78be" />
<polygon points="649.50,306.75 671.00,299.75 671.00,319.25 649.50,326.25" fill="url(#g91)" />
<polyline points="628.00,299.25 649.50,306.75 671.00,299.75" fill="none" stroke="#ffffff" stroke-width="1" stroke-opacity="0.65"/>
<line x1="649.50" y1="306.75" x2="649.50" y2="326.25" stroke="#ffffff" stroke-width="0.8" stroke-opacity="0.65"/>
<polygon points="628.00,278.75 649.50,271.75 671.00,279.25 649.50,286.25" fill="url(#g92)" />
<polygon points="628.00,278.75 649.50,286.25 649.50,305.75 628.00,298.25" fill="#ccff00" />
<polygon points="649.50,286.25 671.00,279.25 671.00,298.75 649.50,305.75" fill="url(#g93)" />
<polyline points="628.00,278.75 649.50,286.25 671.00,279.25" fill="none" stroke="#f6ffe0" stroke-width="1" stroke-opacity="0.65"/>
<line x1="649.50" y1="286.25" x2="649.50" y2="305.75" stroke="#f6ffe0" stroke-width="0.8" stroke-opacity="0.65"/>
<text x="0" y="0" font-size="9.90" fill="#0068b7" text-anchor="middle" font-weight="bold" transform="translate(595.40 283.10) rotate(17.0) skewX(-9.0)" >医事</text>
<text x="0" y="0" font-size="9.90" fill="#0068b7" text-anchor="middle" font-weight="bold" transform="translate(643.20 264.80) rotate(17.0) skewX(-9.0)" >調剤</text>
<text x="0" y="0" font-size="9.90" fill="#0068b7" text-anchor="middle" font-weight="bold" transform="translate(681.70 278.90) rotate(17.0) skewX(-9.0)" >栄養</text>
<text x="0" y="0" font-size="9.90" fill="#0068b7" text-anchor="middle" font-weight="bold" transform="translate(640.00 294.30) rotate(17.0) skewX(-9.0)" >検査</text>
<text x="0" y="0" font-size="11.50" fill="#fff" text-anchor="middle" font-weight="bold" transform="translate(619.60 312.50) rotate(17.0) skewX(-9.0)" >IA OS</text>
<text x="0" y="0" font-size="10.00" fill="#fff" text-anchor="middle" font-weight="bold" transform="translate(614.00 337.50) rotate(17.0) skewX(-9.0)" >仮想環境</text>
<polygon points="202.50,198.75 216.90,184.45 216.90,193.25 238.75,193.25 238.75,184.45 253.00,198.75 238.75,213.05 238.75,204.25 216.90,204.25 216.90,213.05" fill="#ffc3a5" />
<polygon points="561.90,242.50 576.25,228.20 576.25,236.90 598.50,236.90 598.50,228.20 613.10,242.50 598.50,256.80 598.50,248.10 576.25,248.10 576.25,256.80" fill="#ffc3a5" />
<ellipse cx="297.5" cy="300" rx="26" ry="13.8" fill="#2e3192" transform="rotate(14 297.5 300)"/>
<text x="0" y="0" font-size="11.00" fill="#fff" text-anchor="middle" font-weight="bold" transform="translate(297.50 304.00) rotate(14.0) skewX(-9.0)" >稼働系</text>
<ellipse cx="456.7" cy="340.8" rx="26" ry="14" fill="#2e3192" transform="rotate(14 456.7 340.8)"/>
<text x="0" y="0" font-size="11.00" fill="#fff" text-anchor="middle" font-weight="bold" transform="translate(456.20 345.00) rotate(14.0) skewX(-9.0)" >待機系</text>
<text x="0" y="0" font-size="11.10" fill="#292c8d" text-anchor="middle" font-weight="bold" transform="translate(108.80 269.00) rotate(16.0) skewX(-9.0)" >ロードバランス</text>
<text x="0" y="0" font-size="11.20" fill="#292c8d" text-anchor="middle" font-weight="bold" transform="translate(350.50 331.00) rotate(16.0) skewX(-9.0)" >クラスタ</text>
<text x="0" y="0" font-size="11.50" fill="#292c8d" text-anchor="middle" font-weight="bold" transform="translate(625.00 401.00) rotate(12.0) skewX(-9.0)" >仮想化</text>
<g stroke="#f7931e" stroke-width="2" fill="none" stroke-linecap="round">
<path d="M136,363 C166.5,330 167,270 130,233"/>
<line x1="130.0" y1="233.0" x2="138.0" y2="233.9"/>
<line x1="130.0" y1="233.0" x2="130.4" y2="241.0"/>
<path d="M136,363 C200,320 215,250 176,190"/>
<line x1="176.0" y1="190.0" x2="183.7" y2="192.3"/>
<line x1="176.0" y1="190.0" x2="175.0" y2="197.9"/>
<path d="M136,363 C190,330 275,240 210,154"/>
<line x1="210.0" y1="154.0" x2="217.6" y2="156.4"/>
<line x1="210.0" y1="154.0" x2="209.0" y2="161.9"/>
<path d="M585,475 C620,453 682,425 682,372"/>
<line x1="682.0" y1="372.0" x2="686.9" y2="378.3"/>
<line x1="682.0" y1="372.0" x2="676.6" y2="377.9"/>
<path d="M585,475 C655,436 750,408 730,313"/>
<line x1="730.0" y1="313.0" x2="735.8" y2="318.5"/>
<line x1="730.0" y1="313.0" x2="725.5" y2="319.6"/>
<path d="M585,475 C680,440 800,405 764,256"/>
<line x1="764.0" y1="256.0" x2="769.7" y2="261.6"/>
<line x1="764.0" y1="256.0" x2="759.4" y2="262.6"/>
</g>
<polygon points="49.70,376.50 103.50,385.00 77.30,408.40 22.10,395.00" fill="url(#g94)" />
<polygon points="22.10,395.00 77.30,408.40 77.30,410.40 22.10,397.00" fill="#6a6a6a" />
<polygon points="77.30,408.40 103.50,385.00 103.50,387.00 77.30,410.40" fill="#5e5e5e" />
<polygon points="47.50,379.30 85.00,385.80 81.50,393.50 39.50,386.50" fill="#555555" />
<polygon points="48.50,390.80 62.00,393.00 57.50,396.70 44.00,394.00" fill="#3e3e3e" />
<polygon points="47.90,337.80 104.50,345.90 103.50,385.00 49.70,376.50" fill="#6a6a6a" stroke="#6a6a6a" stroke-width="0.8" stroke-linejoin="round"/>
<polygon points="47.90,337.80 104.50,345.90 104.40,348.00 48.00,339.90" fill="#8d8d8d" />
<polygon points="51.10,342.70 100.70,349.80 100.00,380.30 52.10,373.20" fill="url(#g95)" />
<polygon points="65.50,344.80 85.00,347.60 93.00,363.00 100.30,367.50 100.20,374.50 82.50,365.00" fill="#8878e8" opacity="0.95"/>
<polygon points="85.00,347.60 100.70,349.80 100.30,367.50 93.00,363.00" fill="#b3a8f4" />
<polygon points="51.60,359.00 63.00,366.50 78.00,370.00 52.00,368.50" fill="#8373e8" opacity="0.9"/>
<polygon points="52.00,368.50 76.00,370.50 100.20,374.50 100.00,380.30 52.10,373.20" fill="#e4e0fc" />
<polygon points="51.10,342.70 100.70,349.80 100.65,351.20 51.15,344.10" fill="#d4d0ec" />
<polygon points="85.95,407.75 139.75,416.25 113.55,439.65 58.35,426.25" fill="url(#g96)" />
<polygon points="58.35,426.25 113.55,439.65 113.55,441.65 58.35,428.25" fill="#6a6a6a" />
<polygon points="113.55,439.65 139.75,416.25 139.75,418.25 113.55,441.65" fill="#5e5e5e" />
<polygon points="83.75,410.55 121.25,417.05 117.75,424.75 75.75,417.75" fill="#555555" />
<polygon points="84.75,422.05 98.25,424.25 93.75,427.95 80.25,425.25" fill="#3e3e3e" />
<polygon points="84.15,369.05 140.75,377.15 139.75,416.25 85.95,407.75" fill="#6a6a6a" stroke="#6a6a6a" stroke-width="0.8" stroke-linejoin="round"/>
<polygon points="84.15,369.05 140.75,377.15 140.65,379.25 84.25,371.15" fill="#8d8d8d" />
<polygon points="87.35,373.95 136.95,381.05 136.25,411.55 88.35,404.45" fill="url(#g97)" />
<polygon points="101.75,376.05 121.25,378.85 129.25,394.25 136.55,398.75 136.45,405.75 118.75,396.25" fill="#8878e8" opacity="0.95"/>
<polygon points="121.25,378.85 136.95,381.05 136.55,398.75 129.25,394.25" fill="#b3a8f4" />
<polygon points="87.85,390.25 99.25,397.75 114.25,401.25 88.25,399.75" fill="#8373e8" opacity="0.9"/>
<polygon points="88.25,399.75 112.25,401.75 136.45,405.75 136.25,411.55 88.35,404.45" fill="#e4e0fc" />
<polygon points="87.35,373.95 136.95,381.05 136.90,382.45 87.40,375.35" fill="#d4d0ec" />
<polygon points="122.95,436.50 176.75,445.00 150.55,468.40 95.35,455.00" fill="url(#g98)" />
<polygon points="95.35,455.00 150.55,468.40 150.55,470.40 95.35,457.00" fill="#6a6a6a" />
<polygon points="150.55,468.40 176.75,445.00 176.75,447.00 150.55,470.40" fill="#5e5e5e" />
<polygon points="120.75,439.30 158.25,445.80 154.75,453.50 112.75,446.50" fill="#555555" />
<polygon points="121.75,450.80 135.25,453.00 130.75,456.70 117.25,454.00" fill="#3e3e3e" />
<polygon points="121.15,397.80 177.75,405.90 176.75,445.00 122.95,436.50" fill="#6a6a6a" stroke="#6a6a6a" stroke-width="0.8" stroke-linejoin="round"/>
<polygon points="121.15,397.80 177.75,405.90 177.65,408.00 121.25,399.90" fill="#8d8d8d" />
<polygon points="124.35,402.70 173.95,409.80 173.25,440.30 125.35,433.20" fill="url(#g99)" />
<polygon points="138.75,404.80 158.25,407.60 166.25,423.00 173.55,427.50 173.45,434.50 155.75,425.00" fill="#8878e8" opacity="0.95"/>
<polygon points="158.25,407.60 173.95,409.80 173.55,427.50 166.25,423.00" fill="#b3a8f4" />
<polygon points="124.85,419.00 136.25,426.50 151.25,430.00 125.25,428.50" fill="#8373e8" opacity="0.9"/>
<polygon points="125.25,428.50 149.25,430.50 173.45,434.50 173.25,440.30 125.35,433.20" fill="#e4e0fc" />
<polygon points="124.35,402.70 173.95,409.80 173.90,411.20 124.40,404.10" fill="#d4d0ec" />
<text x="0" y="0" font-size="11.50" fill="#000" text-anchor="middle" font-weight="bold" transform="translate(49.00 444.00) rotate(14.0) skewX(-9.0)" >電子カルテ PC</text>
<polygon points="438.00,454.20 478.30,438.30 492.50,440.20 452.50,458.30" fill="url(#g100)" stroke="#f4f4f4" stroke-width="1.2" stroke-linejoin="round"/>
<polygon points="452.50,458.30 492.50,440.20 497.00,491.00 458.30,511.90" fill="url(#g101)" />
<polygon points="438.00,454.20 452.50,458.30 458.30,511.90 445.00,509.20" fill="url(#g102)" />
<polygon points="452.30,491.50 455.20,492.20 457.60,509.80 454.80,509.20" fill="#5a5a5a" />
<polygon points="448.60,490.20 450.00,490.50 450.10,491.80 448.70,491.50" fill="#e8883a" />
<polygon points="473.30,505.60 508.50,517.30 500.00,523.60 462.50,511.70" fill="#fbfbfb" stroke="#b9b9b9" stroke-width="0.7"/>
<polygon points="473.60,507.20 505.30,517.60 499.30,521.90 466.00,511.60" fill="#e3e3e3" />
<polygon points="462.50,511.70 500.00,523.60 500.00,525.00 462.50,513.10" fill="#a8a8a8" />
<polygon points="487.50,504.00 498.00,500.50 509.00,504.50 498.50,508.60" fill="#e6e6e6" stroke="#c4c4c4" stroke-width="0.6"/>
<polygon points="495.80,492.00 505.20,493.50 505.20,503.30 495.80,502.30" fill="url(#g103)" />
<polygon points="474.70,454.70 528.30,460.80 526.90,495.40 475.90,488.60" fill="#f1f1f1" stroke="#d0d0d0" stroke-width="0.7" stroke-linejoin="round"/>
<polygon points="474.70,454.70 528.30,460.80 528.20,462.40 474.80,456.30" fill="#a9a9a9" />
<polygon points="476.30,457.60 526.60,463.40 525.60,491.60 477.10,485.60" fill="url(#g104)" />
<polygon points="490.00,459.20 510.00,461.50 518.00,476.00 525.90,480.00 525.60,488.00 507.00,477.00" fill="#5c9ae3" opacity="0.9"/>
<polygon points="510.00,461.50 526.60,463.40 525.90,480.00 518.00,476.00" fill="#8dbbf0" />
<polygon points="476.60,473.00 488.00,480.00 502.00,483.00 477.00,481.50" fill="#6ba3e8" opacity="0.85"/>
<polygon points="477.00,481.50 500.00,483.50 525.70,487.50 525.60,491.60 477.10,485.60" fill="#d3e4f9" />
<polygon points="504.60,480.20 544.90,464.30 559.10,466.20 519.10,484.30" fill="url(#g105)" stroke="#f4f4f4" stroke-width="1.2" stroke-linejoin="round"/>
<polygon points="519.10,484.30 559.10,466.20 563.60,517.00 524.90,537.90" fill="url(#g106)" />
<polygon points="504.60,480.20 519.10,484.30 524.90,537.90 511.60,535.20" fill="url(#g107)" />
<polygon points="518.90,517.50 521.80,518.20 524.20,535.80 521.40,535.20" fill="#5a5a5a" />
<polygon points="515.20,516.20 516.60,516.50 516.70,517.80 515.30,517.50" fill="#e8883a" />
<polygon points="539.90,531.60 575.10,543.30 566.60,549.60 529.10,537.70" fill="#fbfbfb" stroke="#b9b9b9" stroke-width="0.7"/>
<polygon points="540.20,533.20 571.90,543.60 565.90,547.90 532.60,537.60" fill="#e3e3e3" />
<polygon points="529.10,537.70 566.60,549.60 566.60,551.00 529.10,539.10" fill="#a8a8a8" />
<polygon points="554.10,530.00 564.60,526.50 575.60,530.50 565.10,534.60" fill="#e6e6e6" stroke="#c4c4c4" stroke-width="0.6"/>
<polygon points="562.40,518.00 571.80,519.50 571.80,529.30 562.40,528.30" fill="url(#g108)" />
<polygon points="541.30,480.70 594.90,486.80 593.50,521.40 542.50,514.60" fill="#f1f1f1" stroke="#d0d0d0" stroke-width="0.7" stroke-linejoin="round"/>
<polygon points="541.30,480.70 594.90,486.80 594.80,488.40 541.40,482.30" fill="#a9a9a9" />
<polygon points="542.90,483.60 593.20,489.40 592.20,517.60 543.70,511.60" fill="url(#g109)" />
<polygon points="556.60,485.20 576.60,487.50 584.60,502.00 592.50,506.00 592.20,514.00 573.60,503.00" fill="#5c9ae3" opacity="0.9"/>
<polygon points="576.60,487.50 593.20,489.40 592.50,506.00 584.60,502.00" fill="#8dbbf0" />
<polygon points="543.20,499.00 554.60,506.00 568.60,509.00 543.60,507.50" fill="#6ba3e8" opacity="0.85"/>
<polygon points="543.60,507.50 566.60,509.50 592.30,513.50 592.20,517.60 543.70,511.60" fill="#d3e4f9" />
<polygon points="571.20,502.95 611.50,487.05 625.70,488.95 585.70,507.05" fill="url(#g110)" stroke="#f4f4f4" stroke-width="1.2" stroke-linejoin="round"/>
<polygon points="585.70,507.05 625.70,488.95 630.20,539.75 591.50,560.65" fill="url(#g111)" />
<polygon points="571.20,502.95 585.70,507.05 591.50,560.65 578.20,557.95" fill="url(#g112)" />
<polygon points="585.50,540.25 588.40,540.95 590.80,558.55 588.00,557.95" fill="#5a5a5a" />
<polygon points="581.80,538.95 583.20,539.25 583.30,540.55 581.90,540.25" fill="#e8883a" />
<polygon points="606.50,554.35 641.70,566.05 633.20,572.35 595.70,560.45" fill="#fbfbfb" stroke="#b9b9b9" stroke-width="0.7"/>
<polygon points="606.80,555.95 638.50,566.35 632.50,570.65 599.20,560.35" fill="#e3e3e3" />
<polygon points="595.70,560.45 633.20,572.35 633.20,573.75 595.70,561.85" fill="#a8a8a8" />
<polygon points="620.70,552.75 631.20,549.25 642.20,553.25 631.70,557.35" fill="#e6e6e6" stroke="#c4c4c4" stroke-width="0.6"/>
<polygon points="629.00,540.75 638.40,542.25 638.40,552.05 629.00,551.05" fill="url(#g113)" />
<polygon points="607.90,503.45 661.50,509.55 660.10,544.15 609.10,537.35" fill="#f1f1f1" stroke="#d0d0d0" stroke-width="0.7" stroke-linejoin="round"/>
<polygon points="607.90,503.45 661.50,509.55 661.40,511.15 608.00,505.05" fill="#a9a9a9" />
<polygon points="609.50,506.35 659.80,512.15 658.80,540.35 610.30,534.35" fill="url(#g114)" />
<polygon points="623.20,507.95 643.20,510.25 651.20,524.75 659.10,528.75 658.80,536.75 640.20,525.75" fill="#5c9ae3" opacity="0.9"/>
<polygon points="643.20,510.25 659.80,512.15 659.10,528.75 651.20,524.75" fill="#8dbbf0" />
<polygon points="609.80,521.75 621.20,528.75 635.20,531.75 610.20,530.25" fill="#6ba3e8" opacity="0.85"/>
<polygon points="610.20,530.25 633.20,532.25 658.90,536.25 658.80,540.35 610.30,534.35" fill="#d3e4f9" />
<text x="0" y="0" font-size="11.50" fill="#000" text-anchor="middle" font-weight="bold" transform="translate(525.00 557.00) rotate(14.0) skewX(-9.0)" >部門 PC</text>
<ellipse cx="105.0" cy="48.8" rx="79.4" ry="22.0" fill="#fff" stroke="#292c8d" stroke-width="2.1" stroke-dasharray="2.7 2.1"/>
<text x="105.00" y="42.55" font-size="11.30" fill="#292c8d" text-anchor="middle" font-weight="bold" >電子カルテ</text>
<text x="105.00" y="56.75" font-size="11.30" fill="#292c8d" text-anchor="middle" font-weight="bold" >アプリケーションサーバ</text>
<ellipse cx="452.5" cy="96.5" rx="78.8" ry="21.5" fill="#fff" stroke="#292c8d" stroke-width="2.1" stroke-dasharray="2.7 2.1"/>
<text x="452.50" y="90.30" font-size="11.30" fill="#292c8d" text-anchor="middle" font-weight="bold" >電子カルテ</text>
<text x="452.50" y="104.50" font-size="11.30" fill="#292c8d" text-anchor="middle" font-weight="bold" >データベースサーバ</text>
<ellipse cx="705.6" cy="128.9" rx="79.4" ry="21.7" fill="#fff" stroke="#292c8d" stroke-width="2.1" stroke-dasharray="2.7 2.1"/>
<text x="705.60" y="133.10" font-size="11.30" fill="#292c8d" text-anchor="middle" font-weight="bold" >各種部門システムサーバ</text>
</svg>
</body></html>
